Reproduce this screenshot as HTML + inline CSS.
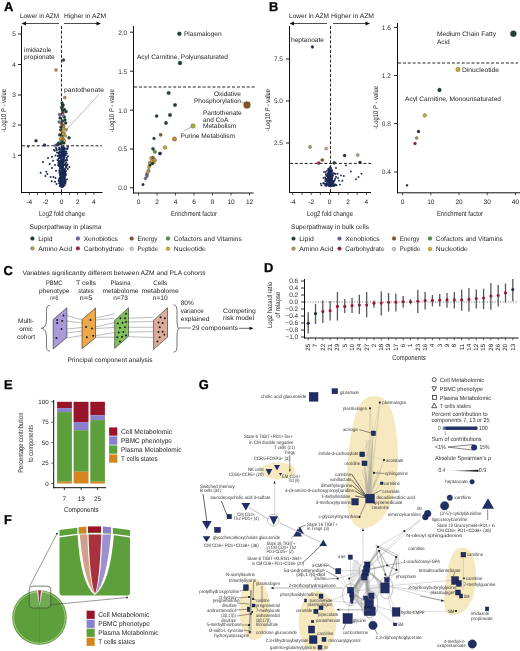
<!DOCTYPE html>
<html><head><meta charset="utf-8"><style>
html,body{margin:0;padding:0;background:#fff;width:520px;height:651px;overflow:hidden}
svg{display:block;font-family:"Liberation Sans", sans-serif;text-rendering:geometricPrecision;will-change:transform}
</style></head><body>
<svg width="520" height="651" viewBox="0 0 520 651">
<rect width="520" height="651" fill="#fff"/>
<text x="4" y="10.6" font-size="12.9" text-anchor="start" fill="#000" font-weight="bold" stroke="#000" stroke-width="0.3">A</text>
<text x="20" y="18.2" font-size="6.5" text-anchor="start" fill="#222" font-weight="normal" textLength="39" lengthAdjust="spacingAndGlyphs">Lower in AZM</text>
<text x="64" y="18.2" font-size="6.5" text-anchor="start" fill="#222" font-weight="normal" textLength="42" lengthAdjust="spacingAndGlyphs">Higher in AZM</text>
<line x1="24" y1="23.5" x2="59" y2="23.5" stroke="#222" stroke-width="0.8"/>
<path d="M21.5,23.5 L26,21.6 L26,25.4 Z" fill="#111"/>
<line x1="64" y1="23.5" x2="98" y2="23.5" stroke="#222" stroke-width="0.8"/>
<path d="M101,23.5 L96.5,21.6 L96.5,25.4 Z" fill="#111"/>
<line x1="21.5" y1="26" x2="21.5" y2="193" stroke="#111" stroke-width="1.0"/>
<line x1="21" y1="192.5" x2="102.5" y2="192.5" stroke="#111" stroke-width="1.0"/>
<text x="15.9" y="36.3" font-size="6.5" text-anchor="end" fill="#333" font-weight="normal">5</text>
<line x1="18" y1="34" x2="21.5" y2="34" stroke="#222" stroke-width="1.0"/>
<text x="15.9" y="66.8" font-size="6.5" text-anchor="end" fill="#333" font-weight="normal">4</text>
<line x1="18" y1="64.5" x2="21.5" y2="64.5" stroke="#222" stroke-width="1.0"/>
<text x="15.9" y="97.3" font-size="6.5" text-anchor="end" fill="#333" font-weight="normal">3</text>
<line x1="18" y1="95" x2="21.5" y2="95" stroke="#222" stroke-width="1.0"/>
<text x="15.9" y="127.3" font-size="6.5" text-anchor="end" fill="#333" font-weight="normal">2</text>
<line x1="18" y1="125" x2="21.5" y2="125" stroke="#222" stroke-width="1.0"/>
<text x="15.9" y="157.60000000000002" font-size="6.5" text-anchor="end" fill="#333" font-weight="normal">1</text>
<line x1="18" y1="155.3" x2="21.5" y2="155.3" stroke="#222" stroke-width="1.0"/>
<line x1="29.3" y1="192.5" x2="29.3" y2="195" stroke="#222" stroke-width="0.8"/>
<line x1="37.5" y1="192.5" x2="37.5" y2="195" stroke="#222" stroke-width="0.8"/>
<line x1="45.6" y1="192.5" x2="45.6" y2="195" stroke="#222" stroke-width="0.8"/>
<line x1="53.7" y1="192.5" x2="53.7" y2="195" stroke="#222" stroke-width="0.8"/>
<line x1="61.5" y1="192.5" x2="61.5" y2="195" stroke="#222" stroke-width="0.8"/>
<line x1="69.6" y1="192.5" x2="69.6" y2="195" stroke="#222" stroke-width="0.8"/>
<line x1="77.7" y1="192.5" x2="77.7" y2="195" stroke="#222" stroke-width="0.8"/>
<line x1="85.8" y1="192.5" x2="85.8" y2="195" stroke="#222" stroke-width="0.8"/>
<line x1="93.9" y1="192.5" x2="93.9" y2="195" stroke="#222" stroke-width="0.8"/>
<text x="29.3" y="204" font-size="6.5" text-anchor="middle" fill="#222" font-weight="normal">-4</text>
<text x="45.6" y="204" font-size="6.5" text-anchor="middle" fill="#222" font-weight="normal">-2</text>
<text x="61.5" y="204" font-size="6.5" text-anchor="middle" fill="#222" font-weight="normal">0</text>
<text x="77.7" y="204" font-size="6.5" text-anchor="middle" fill="#222" font-weight="normal">2</text>
<text x="93.9" y="204" font-size="6.5" text-anchor="middle" fill="#222" font-weight="normal">4</text>
<text x="62" y="215.8" font-size="7.2" text-anchor="middle" fill="#222" font-weight="normal" textLength="46" lengthAdjust="spacingAndGlyphs">Log2 fold change</text>
<text x="5.6" y="110.5" font-size="7.0" text-anchor="middle" fill="#222" font-weight="normal" transform="rotate(-90 5.6 110.5)" textLength="43" lengthAdjust="spacingAndGlyphs">-Log10 <tspan font-style="italic">P</tspan> - value</text>
<line x1="61.5" y1="26" x2="61.5" y2="192" stroke="#222" stroke-width="1.0" stroke-dasharray="3,1.8"/>
<line x1="22" y1="145.8" x2="102" y2="145.8" stroke="#222" stroke-width="1.0" stroke-dasharray="3,1.9"/>
<circle cx="60.0" cy="157.6" r="1.0" fill="#1c2a55"/>
<circle cx="61.8" cy="172.2" r="1.0" fill="#1c2a55"/>
<circle cx="62.6" cy="173.1" r="1.0" fill="#1c2a55"/>
<circle cx="62.4" cy="181.0" r="1.0" fill="#1c2a55"/>
<circle cx="63.1" cy="158.5" r="1.0" fill="#1c2a55"/>
<circle cx="69.4" cy="167.0" r="1.0" fill="#1c2a55"/>
<circle cx="60.0" cy="181.0" r="1.0" fill="#1c2a55"/>
<circle cx="62.9" cy="153.9" r="1.0" fill="#1c2a55"/>
<circle cx="63.9" cy="173.4" r="1.0" fill="#1c2a55"/>
<circle cx="60.7" cy="177.4" r="1.0" fill="#1c2a55"/>
<circle cx="65.2" cy="174.8" r="1.0" fill="#1c2a55"/>
<circle cx="63.6" cy="171.7" r="1.0" fill="#1c2a55"/>
<circle cx="67.1" cy="160.3" r="1.0" fill="#1c2a55"/>
<circle cx="63.1" cy="167.1" r="1.0" fill="#1c2a55"/>
<circle cx="64.4" cy="176.6" r="1.0" fill="#1c2a55"/>
<circle cx="60.7" cy="184.1" r="1.0" fill="#1c2a55"/>
<circle cx="63.1" cy="164.1" r="1.0" fill="#1c2a55"/>
<circle cx="60.8" cy="184.6" r="1.0" fill="#1c2a55"/>
<circle cx="63.0" cy="182.6" r="1.0" fill="#1c2a55"/>
<circle cx="63.1" cy="156.7" r="1.0" fill="#1c2a55"/>
<circle cx="60.4" cy="185.7" r="1.0" fill="#1c2a55"/>
<circle cx="63.6" cy="160.2" r="1.0" fill="#1c2a55"/>
<circle cx="60.8" cy="168.5" r="1.0" fill="#1c2a55"/>
<circle cx="63.5" cy="171.5" r="1.0" fill="#1c2a55"/>
<circle cx="64.8" cy="171.5" r="1.0" fill="#1c2a55"/>
<circle cx="61.0" cy="184.4" r="1.0" fill="#1c2a55"/>
<circle cx="64.7" cy="181.7" r="1.0" fill="#1c2a55"/>
<circle cx="62.1" cy="154.4" r="1.0" fill="#1c2a55"/>
<circle cx="65.7" cy="181.9" r="1.0" fill="#1c2a55"/>
<circle cx="61.3" cy="170.9" r="1.0" fill="#1c2a55"/>
<circle cx="63.1" cy="176.4" r="1.0" fill="#1c2a55"/>
<circle cx="66.0" cy="171.1" r="1.0" fill="#1c2a55"/>
<circle cx="66.7" cy="159.6" r="1.0" fill="#1c2a55"/>
<circle cx="63.4" cy="186.6" r="1.0" fill="#1c2a55"/>
<circle cx="63.2" cy="151.1" r="1.0" fill="#1c2a55"/>
<circle cx="59.7" cy="153.9" r="1.0" fill="#1c2a55"/>
<circle cx="62.9" cy="160.0" r="1.0" fill="#1c2a55"/>
<circle cx="56.5" cy="148.9" r="1.0" fill="#1c2a55"/>
<circle cx="65.3" cy="172.6" r="1.0" fill="#1c2a55"/>
<circle cx="63.4" cy="161.5" r="1.0" fill="#1c2a55"/>
<circle cx="64.1" cy="182.6" r="1.0" fill="#1c2a55"/>
<circle cx="62.1" cy="186.9" r="1.0" fill="#1c2a55"/>
<circle cx="65.2" cy="160.6" r="1.0" fill="#1c2a55"/>
<circle cx="64.1" cy="148.3" r="1.0" fill="#1c2a55"/>
<circle cx="59.3" cy="155.9" r="1.0" fill="#1c2a55"/>
<circle cx="64.3" cy="154.1" r="1.0" fill="#1c2a55"/>
<circle cx="64.0" cy="148.9" r="1.0" fill="#1c2a55"/>
<circle cx="61.4" cy="185.5" r="1.0" fill="#1c2a55"/>
<circle cx="61.1" cy="183.2" r="1.0" fill="#1c2a55"/>
<circle cx="63.9" cy="169.0" r="1.0" fill="#1c2a55"/>
<circle cx="60.3" cy="173.8" r="1.0" fill="#1c2a55"/>
<circle cx="60.9" cy="172.8" r="1.0" fill="#1c2a55"/>
<circle cx="60.7" cy="184.8" r="1.0" fill="#1c2a55"/>
<circle cx="62.2" cy="176.6" r="1.0" fill="#1c2a55"/>
<circle cx="60.1" cy="157.6" r="1.0" fill="#1c2a55"/>
<circle cx="67.8" cy="169.0" r="1.0" fill="#1c2a55"/>
<circle cx="64.4" cy="170.1" r="1.0" fill="#1c2a55"/>
<circle cx="62.4" cy="171.3" r="1.0" fill="#1c2a55"/>
<circle cx="59.2" cy="147.7" r="1.0" fill="#1c2a55"/>
<circle cx="59.6" cy="149.7" r="1.0" fill="#1c2a55"/>
<circle cx="59.5" cy="173.1" r="1.0" fill="#1c2a55"/>
<circle cx="63.0" cy="162.3" r="1.0" fill="#1c2a55"/>
<circle cx="62.3" cy="176.1" r="1.0" fill="#1c2a55"/>
<circle cx="61.7" cy="149.7" r="1.0" fill="#1c2a55"/>
<circle cx="63.7" cy="175.0" r="1.0" fill="#1c2a55"/>
<circle cx="61.9" cy="166.5" r="1.0" fill="#1c2a55"/>
<circle cx="61.5" cy="171.8" r="1.0" fill="#1c2a55"/>
<circle cx="64.4" cy="160.7" r="1.0" fill="#1c2a55"/>
<circle cx="60.7" cy="163.0" r="1.0" fill="#1c2a55"/>
<circle cx="61.2" cy="163.3" r="1.0" fill="#1c2a55"/>
<circle cx="64.5" cy="178.6" r="1.0" fill="#1c2a55"/>
<circle cx="62.7" cy="177.2" r="1.0" fill="#1c2a55"/>
<circle cx="63.0" cy="160.6" r="1.0" fill="#1c2a55"/>
<circle cx="66.8" cy="157.7" r="1.0" fill="#1c2a55"/>
<circle cx="58.6" cy="155.5" r="1.0" fill="#1c2a55"/>
<circle cx="64.0" cy="151.7" r="1.0" fill="#1c2a55"/>
<circle cx="60.0" cy="161.1" r="1.0" fill="#1c2a55"/>
<circle cx="65.9" cy="165.8" r="1.0" fill="#1c2a55"/>
<circle cx="63.0" cy="181.7" r="1.0" fill="#1c2a55"/>
<circle cx="63.8" cy="174.0" r="1.0" fill="#1c2a55"/>
<circle cx="61.2" cy="182.8" r="1.0" fill="#1c2a55"/>
<circle cx="62.9" cy="152.5" r="1.0" fill="#1c2a55"/>
<circle cx="63.7" cy="169.4" r="1.0" fill="#1c2a55"/>
<circle cx="65.0" cy="181.1" r="1.0" fill="#1c2a55"/>
<circle cx="61.5" cy="155.3" r="1.0" fill="#1c2a55"/>
<circle cx="65.7" cy="173.7" r="1.0" fill="#1c2a55"/>
<circle cx="61.8" cy="179.9" r="1.0" fill="#1c2a55"/>
<circle cx="63.4" cy="159.9" r="1.0" fill="#1c2a55"/>
<circle cx="62.1" cy="179.4" r="1.0" fill="#1c2a55"/>
<circle cx="64.3" cy="164.9" r="1.0" fill="#1c2a55"/>
<circle cx="58.1" cy="165.0" r="1.0" fill="#1c2a55"/>
<circle cx="65.5" cy="154.1" r="1.0" fill="#1c2a55"/>
<circle cx="68.0" cy="146.8" r="1.0" fill="#1c2a55"/>
<circle cx="61.3" cy="186.5" r="1.0" fill="#1c2a55"/>
<circle cx="67.1" cy="165.6" r="1.0" fill="#1c2a55"/>
<circle cx="60.5" cy="157.0" r="1.0" fill="#1c2a55"/>
<circle cx="63.6" cy="177.6" r="1.0" fill="#1c2a55"/>
<circle cx="59.7" cy="168.9" r="1.0" fill="#1c2a55"/>
<circle cx="61.4" cy="159.8" r="1.0" fill="#1c2a55"/>
<circle cx="64.0" cy="150.1" r="1.0" fill="#1c2a55"/>
<circle cx="61.5" cy="171.6" r="1.0" fill="#1c2a55"/>
<circle cx="67.4" cy="149.0" r="1.0" fill="#1c2a55"/>
<circle cx="61.1" cy="183.5" r="1.0" fill="#1c2a55"/>
<circle cx="59.0" cy="183.2" r="1.0" fill="#1c2a55"/>
<circle cx="62.1" cy="183.3" r="1.0" fill="#1c2a55"/>
<circle cx="62.2" cy="177.6" r="1.0" fill="#1c2a55"/>
<circle cx="61.1" cy="154.8" r="1.0" fill="#1c2a55"/>
<circle cx="65.2" cy="169.2" r="1.0" fill="#1c2a55"/>
<circle cx="65.2" cy="164.8" r="1.0" fill="#1c2a55"/>
<circle cx="61.1" cy="161.9" r="1.0" fill="#1c2a55"/>
<circle cx="64.1" cy="158.2" r="1.0" fill="#1c2a55"/>
<circle cx="60.8" cy="179.0" r="1.0" fill="#1c2a55"/>
<circle cx="63.2" cy="162.3" r="1.0" fill="#1c2a55"/>
<circle cx="64.2" cy="180.3" r="1.0" fill="#1c2a55"/>
<circle cx="63.8" cy="154.8" r="1.0" fill="#1c2a55"/>
<circle cx="58.7" cy="179.9" r="1.0" fill="#1c2a55"/>
<circle cx="64.6" cy="180.5" r="1.0" fill="#1c2a55"/>
<circle cx="62.4" cy="182.0" r="1.0" fill="#1c2a55"/>
<circle cx="62.0" cy="149.2" r="1.0" fill="#1c2a55"/>
<circle cx="63.9" cy="169.3" r="1.0" fill="#1c2a55"/>
<circle cx="58.5" cy="165.2" r="1.0" fill="#1c2a55"/>
<circle cx="63.2" cy="146.6" r="1.0" fill="#1c2a55"/>
<circle cx="63.3" cy="149.5" r="1.0" fill="#1c2a55"/>
<circle cx="63.3" cy="150.1" r="1.0" fill="#1c2a55"/>
<circle cx="62.7" cy="186.1" r="1.0" fill="#1c2a55"/>
<circle cx="61.6" cy="168.3" r="1.0" fill="#1c2a55"/>
<circle cx="61.4" cy="160.9" r="1.0" fill="#1c2a55"/>
<circle cx="63.9" cy="173.9" r="1.0" fill="#1c2a55"/>
<circle cx="61.5" cy="171.6" r="1.0" fill="#1c2a55"/>
<circle cx="63.5" cy="161.4" r="1.0" fill="#1c2a55"/>
<circle cx="58.3" cy="152.7" r="1.0" fill="#1c2a55"/>
<circle cx="61.1" cy="163.5" r="1.0" fill="#1c2a55"/>
<circle cx="63.5" cy="150.7" r="1.0" fill="#1c2a55"/>
<circle cx="64.0" cy="172.2" r="1.0" fill="#1c2a55"/>
<circle cx="60.1" cy="179.0" r="1.0" fill="#1c2a55"/>
<circle cx="64.7" cy="173.0" r="1.0" fill="#1c2a55"/>
<circle cx="60.5" cy="165.5" r="1.0" fill="#1c2a55"/>
<circle cx="63.8" cy="176.0" r="1.0" fill="#1c2a55"/>
<circle cx="61.4" cy="165.1" r="1.0" fill="#1c2a55"/>
<circle cx="59.7" cy="157.9" r="1.0" fill="#1c2a55"/>
<circle cx="62.0" cy="169.6" r="1.0" fill="#1c2a55"/>
<circle cx="61.5" cy="165.2" r="1.0" fill="#1c2a55"/>
<circle cx="66.1" cy="165.3" r="1.0" fill="#1c2a55"/>
<circle cx="58.6" cy="163.2" r="1.0" fill="#1c2a55"/>
<circle cx="62.6" cy="183.3" r="1.0" fill="#1c2a55"/>
<circle cx="60.7" cy="166.8" r="1.0" fill="#1c2a55"/>
<circle cx="63.8" cy="152.6" r="1.0" fill="#1c2a55"/>
<circle cx="60.2" cy="182.9" r="1.0" fill="#1c2a55"/>
<circle cx="60.9" cy="179.4" r="1.0" fill="#1c2a55"/>
<circle cx="59.4" cy="170.7" r="1.0" fill="#1c2a55"/>
<circle cx="62.1" cy="151.7" r="1.0" fill="#1c2a55"/>
<circle cx="62.2" cy="153.6" r="1.0" fill="#1c2a55"/>
<circle cx="63.0" cy="178.7" r="1.0" fill="#1c2a55"/>
<circle cx="62.6" cy="151.6" r="1.0" fill="#1c2a55"/>
<circle cx="62.4" cy="182.6" r="1.0" fill="#1c2a55"/>
<circle cx="62.6" cy="181.2" r="1.0" fill="#1c2a55"/>
<circle cx="64.6" cy="152.6" r="1.0" fill="#1c2a55"/>
<circle cx="60.3" cy="181.0" r="1.0" fill="#1c2a55"/>
<circle cx="60.0" cy="185.3" r="1.0" fill="#1c2a55"/>
<circle cx="59.8" cy="148.5" r="1.0" fill="#1c2a55"/>
<circle cx="59.6" cy="178.4" r="1.0" fill="#1c2a55"/>
<circle cx="62.0" cy="151.9" r="1.0" fill="#1c2a55"/>
<circle cx="62.9" cy="177.7" r="1.0" fill="#1c2a55"/>
<circle cx="62.0" cy="161.2" r="1.0" fill="#1c2a55"/>
<circle cx="63.0" cy="170.7" r="1.0" fill="#1c2a55"/>
<circle cx="60.6" cy="155.1" r="1.0" fill="#1c2a55"/>
<circle cx="59.2" cy="158.1" r="1.0" fill="#1c2a55"/>
<circle cx="59.8" cy="164.0" r="1.0" fill="#1c2a55"/>
<circle cx="60.6" cy="162.9" r="1.0" fill="#1c2a55"/>
<circle cx="63.6" cy="165.0" r="1.0" fill="#1c2a55"/>
<circle cx="54.8" cy="150.8" r="1.0" fill="#1c2a55"/>
<circle cx="62.3" cy="164.8" r="1.0" fill="#1c2a55"/>
<circle cx="63.7" cy="177.7" r="1.0" fill="#1c2a55"/>
<circle cx="64.6" cy="178.0" r="1.0" fill="#1c2a55"/>
<circle cx="60.2" cy="174.9" r="1.0" fill="#1c2a55"/>
<circle cx="62.1" cy="173.7" r="1.0" fill="#1c2a55"/>
<circle cx="62.7" cy="183.2" r="1.0" fill="#1c2a55"/>
<circle cx="62.9" cy="177.7" r="1.0" fill="#1c2a55"/>
<circle cx="60.7" cy="183.9" r="1.0" fill="#1c2a55"/>
<circle cx="62.1" cy="176.6" r="1.0" fill="#1c2a55"/>
<circle cx="62.1" cy="155.4" r="1.0" fill="#1c2a55"/>
<circle cx="63.6" cy="171.5" r="1.0" fill="#1c2a55"/>
<circle cx="62.7" cy="160.8" r="1.0" fill="#1c2a55"/>
<circle cx="64.5" cy="185.3" r="1.0" fill="#1c2a55"/>
<circle cx="61.6" cy="160.0" r="1.0" fill="#1c2a55"/>
<circle cx="60.7" cy="181.6" r="1.0" fill="#1c2a55"/>
<circle cx="62.1" cy="171.5" r="1.0" fill="#1c2a55"/>
<circle cx="64.3" cy="147.9" r="1.0" fill="#1c2a55"/>
<circle cx="61.3" cy="167.4" r="1.0" fill="#1c2a55"/>
<circle cx="63.3" cy="162.7" r="1.0" fill="#1c2a55"/>
<circle cx="62.5" cy="161.1" r="1.0" fill="#1c2a55"/>
<circle cx="61.5" cy="186.7" r="1.0" fill="#1c2a55"/>
<circle cx="60.3" cy="167.4" r="1.0" fill="#1c2a55"/>
<circle cx="61.2" cy="180.9" r="1.0" fill="#1c2a55"/>
<circle cx="60.5" cy="180.4" r="1.0" fill="#1c2a55"/>
<circle cx="61.6" cy="176.7" r="1.0" fill="#1c2a55"/>
<circle cx="60.2" cy="181.7" r="1.0" fill="#1c2a55"/>
<circle cx="63.7" cy="185.5" r="1.0" fill="#1c2a55"/>
<circle cx="62.5" cy="166.9" r="1.0" fill="#1c2a55"/>
<circle cx="63.6" cy="176.5" r="1.0" fill="#1c2a55"/>
<circle cx="65.8" cy="174.9" r="1.0" fill="#1c2a55"/>
<circle cx="61.0" cy="157.8" r="1.0" fill="#1c2a55"/>
<circle cx="62.2" cy="155.6" r="1.0" fill="#1c2a55"/>
<circle cx="63.5" cy="176.1" r="1.0" fill="#1c2a55"/>
<circle cx="63.3" cy="181.8" r="1.0" fill="#1c2a55"/>
<circle cx="61.6" cy="182.0" r="1.0" fill="#1c2a55"/>
<circle cx="58.9" cy="160.8" r="1.0" fill="#1c2a55"/>
<circle cx="64.4" cy="150.9" r="1.0" fill="#1c2a55"/>
<circle cx="63.5" cy="151.3" r="1.0" fill="#1c2a55"/>
<circle cx="60.6" cy="162.5" r="1.0" fill="#1c2a55"/>
<circle cx="62.2" cy="171.3" r="1.0" fill="#1c2a55"/>
<circle cx="62.1" cy="161.6" r="1.0" fill="#1c2a55"/>
<circle cx="60.8" cy="165.7" r="1.0" fill="#1c2a55"/>
<circle cx="62.4" cy="171.5" r="1.0" fill="#1c2a55"/>
<circle cx="60.9" cy="185.4" r="1.0" fill="#1c2a55"/>
<circle cx="64.5" cy="152.5" r="1.0" fill="#1c2a55"/>
<circle cx="61.7" cy="159.2" r="1.0" fill="#1c2a55"/>
<circle cx="61.6" cy="182.9" r="1.0" fill="#1c2a55"/>
<circle cx="65.3" cy="183.7" r="1.0" fill="#1c2a55"/>
<circle cx="65.4" cy="163.2" r="1.0" fill="#1c2a55"/>
<circle cx="62.4" cy="178.6" r="1.0" fill="#1c2a55"/>
<circle cx="60.7" cy="175.0" r="1.0" fill="#1c2a55"/>
<circle cx="62.8" cy="174.1" r="1.0" fill="#1c2a55"/>
<circle cx="61.0" cy="177.9" r="1.0" fill="#1c2a55"/>
<circle cx="61.5" cy="185.6" r="1.0" fill="#1c2a55"/>
<circle cx="59.3" cy="152.2" r="1.0" fill="#1c2a55"/>
<circle cx="60.3" cy="168.0" r="1.0" fill="#1c2a55"/>
<circle cx="64.7" cy="175.1" r="1.0" fill="#1c2a55"/>
<circle cx="63.5" cy="170.8" r="1.0" fill="#1c2a55"/>
<circle cx="64.8" cy="173.3" r="1.0" fill="#1c2a55"/>
<circle cx="65.2" cy="155.1" r="1.0" fill="#1c2a55"/>
<circle cx="59.8" cy="152.6" r="1.0" fill="#1c2a55"/>
<circle cx="63.1" cy="184.5" r="1.0" fill="#1c2a55"/>
<circle cx="63.5" cy="176.7" r="1.0" fill="#1c2a55"/>
<circle cx="59.6" cy="172.0" r="1.0" fill="#1c2a55"/>
<circle cx="61.2" cy="166.5" r="1.0" fill="#1c2a55"/>
<circle cx="62.7" cy="160.7" r="1.0" fill="#1c2a55"/>
<circle cx="62.9" cy="176.5" r="1.0" fill="#1c2a55"/>
<circle cx="59.5" cy="177.9" r="1.0" fill="#1c2a55"/>
<circle cx="61.3" cy="162.6" r="1.0" fill="#1c2a55"/>
<circle cx="58.6" cy="158.8" r="1.0" fill="#1c2a55"/>
<circle cx="66.2" cy="148.8" r="1.0" fill="#1c2a55"/>
<circle cx="62.4" cy="168.4" r="1.0" fill="#1c2a55"/>
<circle cx="66.3" cy="162.4" r="1.0" fill="#1c2a55"/>
<circle cx="59.9" cy="161.5" r="1.0" fill="#1c2a55"/>
<circle cx="63.5" cy="178.6" r="1.0" fill="#1c2a55"/>
<circle cx="63.0" cy="162.4" r="1.0" fill="#1c2a55"/>
<circle cx="61.3" cy="159.0" r="1.0" fill="#1c2a55"/>
<circle cx="65.9" cy="151.6" r="1.0" fill="#1c2a55"/>
<circle cx="64.3" cy="176.9" r="1.0" fill="#1c2a55"/>
<circle cx="63.3" cy="155.4" r="1.0" fill="#1c2a55"/>
<circle cx="64.0" cy="177.5" r="1.0" fill="#1c2a55"/>
<circle cx="62.3" cy="180.2" r="1.0" fill="#1c2a55"/>
<circle cx="58.7" cy="153.7" r="1.0" fill="#1c2a55"/>
<circle cx="63.3" cy="164.2" r="1.0" fill="#1c2a55"/>
<circle cx="64.6" cy="170.9" r="1.0" fill="#1c2a55"/>
<circle cx="62.3" cy="156.1" r="1.0" fill="#1c2a55"/>
<circle cx="67.3" cy="148.2" r="1.0" fill="#1c2a55"/>
<circle cx="65.5" cy="179.7" r="1.0" fill="#1c2a55"/>
<circle cx="58.8" cy="163.6" r="1.0" fill="#1c2a55"/>
<circle cx="59.8" cy="170.2" r="1.0" fill="#1c2a55"/>
<circle cx="61.3" cy="186.2" r="1.0" fill="#1c2a55"/>
<circle cx="61.2" cy="175.4" r="1.0" fill="#1c2a55"/>
<circle cx="66.3" cy="167.6" r="1.0" fill="#1c2a55"/>
<circle cx="62.3" cy="172.1" r="1.0" fill="#1c2a55"/>
<circle cx="62.2" cy="178.5" r="1.0" fill="#1c2a55"/>
<circle cx="60.0" cy="174.4" r="1.0" fill="#1c2a55"/>
<circle cx="62.4" cy="166.7" r="1.0" fill="#1c2a55"/>
<circle cx="61.6" cy="155.7" r="1.0" fill="#1c2a55"/>
<circle cx="62.2" cy="168.2" r="1.0" fill="#1c2a55"/>
<circle cx="60.0" cy="173.8" r="1.0" fill="#1c2a55"/>
<circle cx="62.9" cy="185.5" r="1.0" fill="#1c2a55"/>
<circle cx="64.1" cy="183.0" r="1.0" fill="#1c2a55"/>
<circle cx="64.9" cy="173.0" r="1.0" fill="#1c2a55"/>
<circle cx="61.0" cy="149.3" r="1.0" fill="#1c2a55"/>
<circle cx="63.9" cy="150.6" r="1.0" fill="#1c2a55"/>
<circle cx="63.9" cy="169.7" r="1.0" fill="#1c2a55"/>
<circle cx="61.7" cy="182.2" r="1.0" fill="#1c2a55"/>
<circle cx="64.7" cy="175.7" r="1.0" fill="#1c2a55"/>
<circle cx="65.2" cy="172.1" r="1.0" fill="#1c2a55"/>
<circle cx="61.8" cy="184.3" r="1.0" fill="#1c2a55"/>
<circle cx="58.5" cy="162.0" r="1.0" fill="#1c2a55"/>
<circle cx="65.3" cy="179.9" r="1.0" fill="#1c2a55"/>
<circle cx="60.5" cy="165.7" r="1.0" fill="#1c2a55"/>
<circle cx="61.5" cy="178.0" r="1.0" fill="#1c2a55"/>
<circle cx="62.4" cy="148.9" r="1.0" fill="#1c2a55"/>
<circle cx="62.8" cy="150.6" r="1.0" fill="#1c2a55"/>
<circle cx="63.5" cy="168.1" r="1.0" fill="#1c2a55"/>
<circle cx="60.4" cy="175.9" r="1.0" fill="#1c2a55"/>
<circle cx="61.8" cy="174.0" r="1.0" fill="#1c2a55"/>
<circle cx="58.3" cy="160.4" r="1.0" fill="#1c2a55"/>
<circle cx="63.1" cy="164.3" r="1.0" fill="#1c2a55"/>
<circle cx="65.7" cy="155.2" r="1.0" fill="#1c2a55"/>
<circle cx="60.1" cy="162.9" r="1.0" fill="#1c2a55"/>
<circle cx="59.2" cy="163.1" r="1.0" fill="#1c2a55"/>
<circle cx="61.7" cy="157.0" r="1.0" fill="#1c2a55"/>
<circle cx="63.6" cy="146.7" r="1.0" fill="#1c2a55"/>
<circle cx="66.8" cy="153.6" r="1.0" fill="#1c2a55"/>
<circle cx="62.8" cy="166.6" r="1.0" fill="#1c2a55"/>
<circle cx="64.0" cy="154.8" r="1.0" fill="#1c2a55"/>
<circle cx="62.6" cy="164.4" r="1.0" fill="#1c2a55"/>
<circle cx="62.9" cy="152.1" r="1.0" fill="#1c2a55"/>
<circle cx="61.4" cy="154.6" r="1.0" fill="#1c2a55"/>
<circle cx="62.4" cy="147.8" r="1.0" fill="#1c2a55"/>
<circle cx="59.4" cy="166.2" r="1.0" fill="#1c2a55"/>
<circle cx="64.7" cy="149.3" r="1.0" fill="#1c2a55"/>
<circle cx="61.9" cy="164.4" r="1.0" fill="#1c2a55"/>
<circle cx="62.5" cy="185.7" r="1.0" fill="#1c2a55"/>
<circle cx="64.7" cy="156.8" r="1.0" fill="#1c2a55"/>
<circle cx="64.0" cy="154.5" r="1.0" fill="#1c2a55"/>
<circle cx="61.7" cy="172.9" r="1.0" fill="#1c2a55"/>
<circle cx="63.5" cy="149.3" r="1.0" fill="#1c2a55"/>
<circle cx="61.8" cy="176.9" r="1.0" fill="#1c2a55"/>
<circle cx="66.1" cy="166.8" r="1.0" fill="#1c2a55"/>
<circle cx="61.9" cy="184.5" r="1.0" fill="#1c2a55"/>
<circle cx="64.1" cy="158.8" r="1.0" fill="#1c2a55"/>
<circle cx="61.3" cy="180.2" r="1.0" fill="#1c2a55"/>
<circle cx="60.5" cy="151.3" r="1.0" fill="#1c2a55"/>
<circle cx="64.7" cy="175.2" r="1.0" fill="#1c2a55"/>
<circle cx="61.5" cy="146.8" r="1.0" fill="#1c2a55"/>
<circle cx="63.8" cy="148.2" r="1.0" fill="#1c2a55"/>
<circle cx="63.2" cy="148.6" r="1.0" fill="#1c2a55"/>
<circle cx="58.9" cy="149.4" r="1.0" fill="#1c2a55"/>
<circle cx="57.7" cy="156.0" r="1.0" fill="#1c2a55"/>
<circle cx="59.8" cy="186.0" r="1.0" fill="#1c2a55"/>
<circle cx="62.7" cy="184.0" r="1.0" fill="#1c2a55"/>
<circle cx="63.5" cy="184.8" r="1.0" fill="#1c2a55"/>
<circle cx="62.7" cy="172.3" r="1.0" fill="#1c2a55"/>
<circle cx="63.3" cy="185.0" r="1.0" fill="#1c2a55"/>
<circle cx="63.0" cy="181.5" r="1.0" fill="#1c2a55"/>
<circle cx="60.4" cy="152.3" r="1.0" fill="#1c2a55"/>
<circle cx="63.4" cy="175.1" r="1.0" fill="#1c2a55"/>
<circle cx="63.4" cy="184.4" r="1.0" fill="#1c2a55"/>
<circle cx="64.9" cy="177.2" r="1.0" fill="#1c2a55"/>
<circle cx="58.8" cy="181.0" r="1.0" fill="#1c2a55"/>
<circle cx="60.6" cy="162.8" r="1.0" fill="#1c2a55"/>
<circle cx="62.8" cy="164.8" r="1.0" fill="#1c2a55"/>
<circle cx="66.0" cy="167.4" r="1.0" fill="#1c2a55"/>
<circle cx="64.2" cy="158.9" r="1.0" fill="#1c2a55"/>
<circle cx="65.0" cy="172.3" r="1.0" fill="#1c2a55"/>
<circle cx="60.7" cy="176.3" r="1.0" fill="#1c2a55"/>
<circle cx="64.3" cy="154.0" r="1.0" fill="#1c2a55"/>
<circle cx="64.3" cy="176.3" r="1.0" fill="#1c2a55"/>
<circle cx="62.6" cy="178.1" r="1.0" fill="#1c2a55"/>
<circle cx="63.4" cy="175.0" r="1.0" fill="#1c2a55"/>
<circle cx="63.0" cy="181.3" r="1.0" fill="#1c2a55"/>
<circle cx="65.1" cy="173.7" r="1.0" fill="#1c2a55"/>
<circle cx="59.2" cy="166.2" r="1.0" fill="#1c2a55"/>
<circle cx="62.2" cy="183.2" r="1.0" fill="#1c2a55"/>
<circle cx="60.2" cy="163.1" r="1.0" fill="#1c2a55"/>
<circle cx="56.7" cy="150.3" r="1.0" fill="#1c2a55"/>
<circle cx="66.4" cy="151.8" r="1.0" fill="#1c2a55"/>
<circle cx="62.9" cy="170.9" r="1.0" fill="#1c2a55"/>
<circle cx="62.8" cy="174.0" r="1.0" fill="#1c2a55"/>
<circle cx="63.7" cy="157.7" r="1.0" fill="#1c2a55"/>
<circle cx="62.6" cy="173.8" r="1.0" fill="#1c2a55"/>
<circle cx="63.7" cy="171.5" r="1.0" fill="#1c2a55"/>
<circle cx="62.4" cy="185.8" r="1.0" fill="#1c2a55"/>
<circle cx="59.8" cy="156.9" r="1.0" fill="#1c2a55"/>
<circle cx="61.6" cy="178.9" r="1.0" fill="#1c2a55"/>
<circle cx="52" cy="156.8" r="1.0" fill="#1c2a55"/>
<circle cx="55.5" cy="155.4" r="1.0" fill="#1c2a55"/>
<circle cx="53" cy="160.7" r="1.0" fill="#1c2a55"/>
<circle cx="49.7" cy="164" r="1.0" fill="#1c2a55"/>
<circle cx="57" cy="152.5" r="1.0" fill="#1c2a55"/>
<circle cx="40.6" cy="172.7" r="1.0" fill="#1c2a55"/>
<circle cx="46.3" cy="171.7" r="1.0" fill="#1c2a55"/>
<circle cx="45.4" cy="176" r="1.0" fill="#1c2a55"/>
<circle cx="47.3" cy="174" r="1.0" fill="#1c2a55"/>
<circle cx="50.7" cy="177" r="1.0" fill="#1c2a55"/>
<circle cx="51.6" cy="181.3" r="1.0" fill="#1c2a55"/>
<circle cx="55" cy="181.8" r="1.0" fill="#1c2a55"/>
<circle cx="56" cy="170.8" r="1.0" fill="#1c2a55"/>
<circle cx="55" cy="165" r="1.0" fill="#1c2a55"/>
<circle cx="55.5" cy="178" r="1.0" fill="#1c2a55"/>
<circle cx="53.5" cy="177" r="1.0" fill="#1c2a55"/>
<circle cx="68" cy="156.3" r="1.0" fill="#1c2a55"/>
<circle cx="67.5" cy="164.5" r="1.0" fill="#1c2a55"/>
<circle cx="67" cy="179.4" r="1.0" fill="#1c2a55"/>
<circle cx="54" cy="150" r="1.0" fill="#1c2a55"/>
<circle cx="56" cy="148" r="1.0" fill="#1c2a55"/>
<circle cx="52" cy="168" r="1.0" fill="#1c2a55"/>
<circle cx="57.5" cy="160" r="1.0" fill="#1c2a55"/>
<circle cx="48" cy="158" r="1.0" fill="#1c2a55"/>
<circle cx="43" cy="162" r="1.0" fill="#1c2a55"/>
<circle cx="56.5" cy="184" r="1.0" fill="#1c2a55"/>
<circle cx="64.8" cy="97.6" r="1.5" fill="#b89258" stroke="#2a2a2a" stroke-width="0.3"/>
<circle cx="63" cy="105" r="1.6" fill="#1e4136" stroke="#2a2a2a" stroke-width="0.3"/>
<circle cx="64.3" cy="109.4" r="1.5" fill="#1e4136" stroke="#2a2a2a" stroke-width="0.3"/>
<circle cx="66" cy="111.6" r="1.5" fill="#1e4136" stroke="#2a2a2a" stroke-width="0.3"/>
<circle cx="59.7" cy="114.5" r="1.5" fill="#6e64a8" stroke="#2a2a2a" stroke-width="0.3"/>
<circle cx="64.3" cy="117" r="1.5" fill="#1e4136" stroke="#2a2a2a" stroke-width="0.3"/>
<circle cx="59.4" cy="122" r="1.5" fill="#6e64a8" stroke="#2a2a2a" stroke-width="0.3"/>
<circle cx="65.6" cy="123" r="1.5" fill="#1e4136" stroke="#2a2a2a" stroke-width="0.3"/>
<circle cx="63" cy="125.5" r="1.5" fill="#8a5524" stroke="#2a2a2a" stroke-width="0.3"/>
<circle cx="61" cy="127" r="1.5" fill="#1e4136" stroke="#2a2a2a" stroke-width="0.3"/>
<circle cx="66" cy="129.7" r="1.5" fill="#b89258" stroke="#2a2a2a" stroke-width="0.3"/>
<circle cx="62" cy="131" r="1.5" fill="#cfae2e" stroke="#2a2a2a" stroke-width="0.3"/>
<circle cx="59.7" cy="134.8" r="1.5" fill="#1e4136" stroke="#2a2a2a" stroke-width="0.3"/>
<circle cx="64" cy="133" r="1.5" fill="#cfae2e" stroke="#2a2a2a" stroke-width="0.3"/>
<circle cx="69" cy="137.8" r="1.5" fill="#1e4136" stroke="#2a2a2a" stroke-width="0.3"/>
<circle cx="36" cy="140.7" r="1.5" fill="#1c2a55" stroke="#2a2a2a" stroke-width="0.3"/>
<circle cx="44.5" cy="145" r="1.5" fill="#1c2a55" stroke="#2a2a2a" stroke-width="0.3"/>
<circle cx="55.5" cy="145.4" r="1.4" fill="#6e64a8" stroke="#2a2a2a" stroke-width="0.3"/>
<circle cx="63" cy="139" r="1.5" fill="#b89258" stroke="#2a2a2a" stroke-width="0.3"/>
<circle cx="61" cy="141" r="1.4" fill="#4e9444" stroke="#2a2a2a" stroke-width="0.3"/>
<circle cx="64" cy="143" r="1.4" fill="#1e4136" stroke="#2a2a2a" stroke-width="0.3"/>
<circle cx="60" cy="144" r="1.3" fill="#1c2a55" stroke="#2a2a2a" stroke-width="0.3"/>
<circle cx="62" cy="136" r="1.5" fill="#1e4136" stroke="#2a2a2a" stroke-width="0.3"/>
<circle cx="65" cy="120" r="1.4" fill="#1e4136" stroke="#2a2a2a" stroke-width="0.3"/>
<circle cx="63" cy="113" r="1.4" fill="#8a5524" stroke="#2a2a2a" stroke-width="0.3"/>
<circle cx="60" cy="118" r="1.4" fill="#1e4136" stroke="#2a2a2a" stroke-width="0.3"/>
<circle cx="62" cy="103" r="1.4" fill="#1e4136" stroke="#2a2a2a" stroke-width="0.3"/>
<circle cx="61.5" cy="108" r="1.3" fill="#1e4136" stroke="#2a2a2a" stroke-width="0.3"/>
<circle cx="63.5" cy="128.5" r="1.4" fill="#cfae2e" stroke="#2a2a2a" stroke-width="0.3"/>
<circle cx="60.5" cy="130" r="1.3" fill="#1e4136" stroke="#2a2a2a" stroke-width="0.3"/>
<circle cx="65.5" cy="136" r="1.4" fill="#cfae2e" stroke="#2a2a2a" stroke-width="0.3"/>
<circle cx="62.5" cy="138.5" r="1.4" fill="#cfae2e" stroke="#2a2a2a" stroke-width="0.3"/>
<circle cx="62.5" cy="110.5" r="1.5" fill="#1e4136" stroke="#2a2a2a" stroke-width="0.3"/>
<circle cx="63.5" cy="116" r="1.3" fill="#6e64a8" stroke="#2a2a2a" stroke-width="0.3"/>
<circle cx="62.5" cy="121" r="1.5" fill="#1e4136" stroke="#2a2a2a" stroke-width="0.3"/>
<circle cx="61.8" cy="124" r="1.4" fill="#8a5524" stroke="#2a2a2a" stroke-width="0.3"/>
<circle cx="63.2" cy="134" r="1.5" fill="#cfae2e" stroke="#2a2a2a" stroke-width="0.3"/>
<circle cx="61.8" cy="137.5" r="1.5" fill="#b89258" stroke="#2a2a2a" stroke-width="0.3"/>
<circle cx="63" cy="142" r="1.5" fill="#1e4136" stroke="#2a2a2a" stroke-width="0.3"/>
<circle cx="61.5" cy="143.5" r="1.4" fill="#1e4136" stroke="#2a2a2a" stroke-width="0.3"/>
<circle cx="64.5" cy="140.5" r="1.4" fill="#cfae2e" stroke="#2a2a2a" stroke-width="0.3"/>
<circle cx="60.5" cy="139" r="1.4" fill="#cfae2e" stroke="#2a2a2a" stroke-width="0.3"/>
<circle cx="62.3" cy="106.5" r="1.6" fill="#1e4136" stroke="#2a2a2a" stroke-width="0.3"/>
<circle cx="63.8" cy="126.5" r="1.4" fill="#b89258" stroke="#2a2a2a" stroke-width="0.3"/>
<circle cx="58.5" cy="143" r="1.3" fill="#1e4136" stroke="#2a2a2a" stroke-width="0.3"/>
<circle cx="57.5" cy="144.5" r="1.3" fill="#1c2a55" stroke="#2a2a2a" stroke-width="0.3"/>
<path d="M26.8,145.8 L29.6,145.8 L28.2,148.2 Z" fill="#1c2a55"/>
<circle cx="56" cy="70" r="1.5" fill="#b89258" stroke="#2a2a2a" stroke-width="0.3"/>
<circle cx="63.5" cy="60" r="1.5" fill="#1e4136" stroke="#2a2a2a" stroke-width="0.3"/>
<text x="24" y="52.2" font-size="6.5" text-anchor="start" fill="#222" font-weight="normal">imidazole</text>
<text x="24" y="59.2" font-size="6.5" text-anchor="start" fill="#222" font-weight="normal">propionate</text>
<text x="64" y="92.3" font-size="6.5" text-anchor="start" fill="#222" font-weight="normal" textLength="40" lengthAdjust="spacingAndGlyphs">pantothenate</text>
<line x1="99" y1="94.5" x2="67" y2="129" stroke="#666" stroke-width="0.45"/>
<line x1="133.5" y1="26" x2="133.5" y2="193.5" stroke="#111" stroke-width="1.0"/>
<line x1="133" y1="193" x2="253.5" y2="193" stroke="#111" stroke-width="1.0"/>
<text x="127.2" y="34.5" font-size="6.5" text-anchor="end" fill="#333" font-weight="normal">2.0</text>
<line x1="130" y1="32.2" x2="133.5" y2="32.2" stroke="#222" stroke-width="1.0"/>
<text x="127.2" y="73.5" font-size="6.5" text-anchor="end" fill="#333" font-weight="normal">1.5</text>
<line x1="130" y1="71.2" x2="133.5" y2="71.2" stroke="#222" stroke-width="1.0"/>
<text x="127.2" y="112.5" font-size="6.5" text-anchor="end" fill="#333" font-weight="normal">1.0</text>
<line x1="130" y1="110.2" x2="133.5" y2="110.2" stroke="#222" stroke-width="1.0"/>
<text x="127.2" y="151.3" font-size="6.5" text-anchor="end" fill="#333" font-weight="normal">0.5</text>
<line x1="130" y1="149" x2="133.5" y2="149" stroke="#222" stroke-width="1.0"/>
<text x="127.2" y="190.10000000000002" font-size="6.5" text-anchor="end" fill="#333" font-weight="normal">0.0</text>
<line x1="130" y1="187.8" x2="133.5" y2="187.8" stroke="#222" stroke-width="1.0"/>
<line x1="138.5" y1="193" x2="138.5" y2="195.5" stroke="#222" stroke-width="0.8"/>
<text x="138.5" y="204" font-size="6.5" text-anchor="middle" fill="#222" font-weight="normal">0</text>
<line x1="157" y1="193" x2="157" y2="195.5" stroke="#222" stroke-width="0.8"/>
<text x="157" y="204" font-size="6.5" text-anchor="middle" fill="#222" font-weight="normal">2</text>
<line x1="175.5" y1="193" x2="175.5" y2="195.5" stroke="#222" stroke-width="0.8"/>
<text x="175.5" y="204" font-size="6.5" text-anchor="middle" fill="#222" font-weight="normal">4</text>
<line x1="194" y1="193" x2="194" y2="195.5" stroke="#222" stroke-width="0.8"/>
<text x="194" y="204" font-size="6.5" text-anchor="middle" fill="#222" font-weight="normal">6</text>
<line x1="212.5" y1="193" x2="212.5" y2="195.5" stroke="#222" stroke-width="0.8"/>
<text x="212.5" y="204" font-size="6.5" text-anchor="middle" fill="#222" font-weight="normal">8</text>
<line x1="231" y1="193" x2="231" y2="195.5" stroke="#222" stroke-width="0.8"/>
<text x="231" y="204" font-size="6.5" text-anchor="middle" fill="#222" font-weight="normal">10</text>
<line x1="249.5" y1="193" x2="249.5" y2="195.5" stroke="#222" stroke-width="0.8"/>
<text x="249.5" y="204" font-size="6.5" text-anchor="middle" fill="#222" font-weight="normal">12</text>
<text x="194" y="215.8" font-size="7.2" text-anchor="middle" fill="#222" font-weight="normal" textLength="46" lengthAdjust="spacingAndGlyphs">Enrichment factor</text>
<text x="114.1" y="110.7" font-size="7.0" text-anchor="middle" fill="#222" font-weight="normal" transform="rotate(-90 114.1 110.7)" textLength="43" lengthAdjust="spacingAndGlyphs">-Log10 <tspan font-style="italic">P</tspan> - value</text>
<line x1="134" y1="87" x2="255" y2="87" stroke="#222" stroke-width="1.0" stroke-dasharray="3,1.9"/>
<circle cx="179.4" cy="33.8" r="2.0" fill="#1e4136" stroke="#2a2a2a" stroke-width="0.3"/>
<circle cx="180" cy="63" r="2.0" fill="#1e4136" stroke="#2a2a2a" stroke-width="0.3"/>
<circle cx="247" cy="105" r="3.4" fill="#8a5524" stroke="#2a2a2a" stroke-width="0.3"/>
<circle cx="193" cy="126" r="2.3" fill="#a7ae3a" stroke="#2a2a2a" stroke-width="0.3"/>
<circle cx="174.5" cy="139" r="2.2" fill="#c98f2a" stroke="#2a2a2a" stroke-width="0.3"/>
<circle cx="168.6" cy="93" r="1.8" fill="#1e4136" stroke="#2a2a2a" stroke-width="0.3"/>
<circle cx="175" cy="105" r="1.8" fill="#1e4136" stroke="#2a2a2a" stroke-width="0.3"/>
<circle cx="156.6" cy="116" r="1.6" fill="#1e4136" stroke="#2a2a2a" stroke-width="0.3"/>
<circle cx="170" cy="115" r="1.8" fill="#1e4136" stroke="#2a2a2a" stroke-width="0.3"/>
<circle cx="166" cy="123" r="1.7" fill="#1e4136" stroke="#2a2a2a" stroke-width="0.3"/>
<circle cx="160.6" cy="134.8" r="1.6" fill="#8a5524" stroke="#2a2a2a" stroke-width="0.3"/>
<circle cx="154" cy="138.5" r="1.4" fill="#1e4136" stroke="#2a2a2a" stroke-width="0.3"/>
<circle cx="165" cy="147.5" r="1.9" fill="#cfae2e" stroke="#2a2a2a" stroke-width="0.3"/>
<circle cx="153" cy="148.8" r="1.6" fill="#1e4136" stroke="#2a2a2a" stroke-width="0.3"/>
<circle cx="154.8" cy="151.7" r="1.7" fill="#4e9444" stroke="#2a2a2a" stroke-width="0.3"/>
<circle cx="160" cy="153.5" r="1.7" fill="#1c2a55" stroke="#2a2a2a" stroke-width="0.3"/>
<circle cx="151.7" cy="161" r="1.7" fill="#cfae2e" stroke="#2a2a2a" stroke-width="0.3"/>
<circle cx="153.8" cy="162" r="1.8" fill="#cfae2e" stroke="#2a2a2a" stroke-width="0.3"/>
<circle cx="152.5" cy="163.5" r="1.5" fill="#1e4136" stroke="#2a2a2a" stroke-width="0.3"/>
<circle cx="149" cy="167" r="1.7" fill="#cfae2e" stroke="#2a2a2a" stroke-width="0.3"/>
<circle cx="148.6" cy="170.8" r="1.7" fill="#b89258" stroke="#2a2a2a" stroke-width="0.3"/>
<circle cx="147.5" cy="172.5" r="1.6" fill="#cfae2e" stroke="#2a2a2a" stroke-width="0.3"/>
<circle cx="146.8" cy="174.5" r="1.5" fill="#6e64a8" stroke="#2a2a2a" stroke-width="0.3"/>
<circle cx="145.5" cy="178.5" r="1.4" fill="#6e64a8" stroke="#2a2a2a" stroke-width="0.3"/>
<circle cx="143" cy="184.6" r="1.3" fill="#1c2a55" stroke="#2a2a2a" stroke-width="0.3"/>
<circle cx="150" cy="165" r="1.4" fill="#1e4136" stroke="#2a2a2a" stroke-width="0.3"/>
<circle cx="147" cy="176" r="1.5" fill="#7a6a9a" stroke="#2a2a2a" stroke-width="0.3"/>
<circle cx="151" cy="158" r="1.5" fill="#cfae2e" stroke="#2a2a2a" stroke-width="0.3"/>
<circle cx="155" cy="160" r="1.6" fill="#b89258" stroke="#2a2a2a" stroke-width="0.3"/>
<circle cx="153" cy="157.5" r="1.5" fill="#8a5524" stroke="#2a2a2a" stroke-width="0.3"/>
<circle cx="149.5" cy="163" r="1.4" fill="#b89258" stroke="#2a2a2a" stroke-width="0.3"/>
<text x="184" y="36.3" font-size="6.5" text-anchor="start" fill="#222" font-weight="normal">Plasmalogen</text>
<text x="137" y="58.6" font-size="6.5" text-anchor="start" fill="#222" font-weight="normal" textLength="91" lengthAdjust="spacingAndGlyphs">Acyl Carnitine, Polyunsaturated</text>
<text x="241" y="96.3" font-size="6.5" text-anchor="end" fill="#222" font-weight="normal">Oxidative</text>
<text x="241" y="102.6" font-size="6.5" text-anchor="end" fill="#222" font-weight="normal" textLength="47" lengthAdjust="spacingAndGlyphs">Phosphorylation</text>
<line x1="240.5" y1="101.5" x2="244.5" y2="103.5" stroke="#555" stroke-width="0.45"/>
<text x="203" y="115.3" font-size="6.5" text-anchor="start" fill="#222" font-weight="normal">Pantothenate</text>
<text x="203" y="121.6" font-size="6.5" text-anchor="start" fill="#222" font-weight="normal">and CoA</text>
<text x="203" y="127.9" font-size="6.5" text-anchor="start" fill="#222" font-weight="normal">Metabolism</text>
<line x1="183.5" y1="131.2" x2="191.2" y2="127" stroke="#555" stroke-width="0.45"/>
<text x="180.5" y="138.3" font-size="6.5" text-anchor="start" fill="#222" font-weight="normal" textLength="54.5" lengthAdjust="spacingAndGlyphs">Purine Metabolism</text>
<text x="29.5" y="229.1" font-size="6.7" text-anchor="start" fill="#222" font-weight="normal" textLength="72" lengthAdjust="spacingAndGlyphs">Superpathway in plasma</text>
<circle cx="32.4" cy="238.5" r="1.9" fill="#1e4136" stroke="#333" stroke-width="0.25"/>
<text x="38.199999999999996" y="240.8" font-size="6.7" text-anchor="start" fill="#222" font-weight="normal" textLength="14.4" lengthAdjust="spacingAndGlyphs">Lipid</text>
<circle cx="77.9" cy="238.5" r="1.9" fill="#6e64a8" stroke="#333" stroke-width="0.25"/>
<text x="83.7" y="240.8" font-size="6.7" text-anchor="start" fill="#222" font-weight="normal" textLength="34.2" lengthAdjust="spacingAndGlyphs">Xenobiotics</text>
<circle cx="131.7" cy="238.5" r="1.9" fill="#8a5524" stroke="#333" stroke-width="0.25"/>
<text x="137.5" y="240.8" font-size="6.7" text-anchor="start" fill="#222" font-weight="normal" textLength="20" lengthAdjust="spacingAndGlyphs">Energy</text>
<circle cx="168" cy="238.5" r="1.9" fill="#4e9444" stroke="#333" stroke-width="0.25"/>
<text x="173.8" y="240.8" font-size="6.7" text-anchor="start" fill="#222" font-weight="normal" textLength="68" lengthAdjust="spacingAndGlyphs">Cofactors and Vitamins</text>
<circle cx="32.4" cy="248.3" r="1.9" fill="#b89258" stroke="#333" stroke-width="0.25"/>
<text x="38.199999999999996" y="250.60000000000002" font-size="6.7" text-anchor="start" fill="#222" font-weight="normal" textLength="34" lengthAdjust="spacingAndGlyphs">Amino Acid</text>
<circle cx="77.9" cy="248.3" r="1.9" fill="#9b1e5b" stroke="#333" stroke-width="0.25"/>
<text x="83.7" y="250.60000000000002" font-size="6.7" text-anchor="start" fill="#222" font-weight="normal" textLength="40.2" lengthAdjust="spacingAndGlyphs">Carbohydrate</text>
<circle cx="131.7" cy="248.7" r="1.9" fill="#c8c8c8" stroke="#333" stroke-width="0.25"/>
<text x="137.5" y="251.0" font-size="6.7" text-anchor="start" fill="#222" font-weight="normal" textLength="20.5" lengthAdjust="spacingAndGlyphs">Peptide</text>
<circle cx="168" cy="248.7" r="1.9" fill="#cfae2e" stroke="#333" stroke-width="0.25"/>
<text x="173.8" y="251.0" font-size="6.7" text-anchor="start" fill="#222" font-weight="normal" textLength="32" lengthAdjust="spacingAndGlyphs">Nucleotide</text>
<text x="268.9" y="10.8" font-size="12.9" text-anchor="start" fill="#000" font-weight="bold" stroke="#000" stroke-width="0.3">B</text>
<text x="289" y="18.2" font-size="6.5" text-anchor="start" fill="#222" font-weight="normal" textLength="40" lengthAdjust="spacingAndGlyphs">Lower in AZM</text>
<text x="331" y="18.2" font-size="6.5" text-anchor="start" fill="#222" font-weight="normal" textLength="43" lengthAdjust="spacingAndGlyphs">Higher in AZM</text>
<line x1="292" y1="23.5" x2="327" y2="23.5" stroke="#222" stroke-width="0.8"/>
<path d="M289.5,23.5 L294,21.6 L294,25.4 Z" fill="#111"/>
<line x1="333" y1="23.5" x2="367" y2="23.5" stroke="#222" stroke-width="0.8"/>
<path d="M370,23.5 L365.5,21.6 L365.5,25.4 Z" fill="#111"/>
<line x1="289.5" y1="26" x2="289.5" y2="193" stroke="#111" stroke-width="1.0"/>
<line x1="289" y1="192.5" x2="371" y2="192.5" stroke="#111" stroke-width="1.0"/>
<text x="283" y="61.3" font-size="6.5" text-anchor="end" fill="#333" font-weight="normal">7.5</text>
<line x1="286" y1="59" x2="289.5" y2="59" stroke="#222" stroke-width="1.0"/>
<text x="283" y="103.3" font-size="6.5" text-anchor="end" fill="#333" font-weight="normal">5.0</text>
<line x1="286" y1="101" x2="289.5" y2="101" stroke="#222" stroke-width="1.0"/>
<text x="283" y="145.3" font-size="6.5" text-anchor="end" fill="#333" font-weight="normal">2.5</text>
<line x1="286" y1="143" x2="289.5" y2="143" stroke="#222" stroke-width="1.0"/>
<line x1="292.7" y1="192.5" x2="292.7" y2="195" stroke="#222" stroke-width="0.8"/>
<line x1="302" y1="192.5" x2="302" y2="195" stroke="#222" stroke-width="0.8"/>
<line x1="311.2" y1="192.5" x2="311.2" y2="195" stroke="#222" stroke-width="0.8"/>
<line x1="320.4" y1="192.5" x2="320.4" y2="195" stroke="#222" stroke-width="0.8"/>
<line x1="329.6" y1="192.5" x2="329.6" y2="195" stroke="#222" stroke-width="0.8"/>
<line x1="338.8" y1="192.5" x2="338.8" y2="195" stroke="#222" stroke-width="0.8"/>
<line x1="348" y1="192.5" x2="348" y2="195" stroke="#222" stroke-width="0.8"/>
<line x1="357.2" y1="192.5" x2="357.2" y2="195" stroke="#222" stroke-width="0.8"/>
<line x1="366.4" y1="192.5" x2="366.4" y2="195" stroke="#222" stroke-width="0.8"/>
<text x="292.7" y="204" font-size="6.5" text-anchor="middle" fill="#222" font-weight="normal">-4</text>
<text x="311.2" y="204" font-size="6.5" text-anchor="middle" fill="#222" font-weight="normal">-2</text>
<text x="329.6" y="204" font-size="6.5" text-anchor="middle" fill="#222" font-weight="normal">0</text>
<text x="348" y="204" font-size="6.5" text-anchor="middle" fill="#222" font-weight="normal">2</text>
<text x="366.4" y="204" font-size="6.5" text-anchor="middle" fill="#222" font-weight="normal">4</text>
<text x="330" y="215.8" font-size="7.2" text-anchor="middle" fill="#222" font-weight="normal" textLength="46" lengthAdjust="spacingAndGlyphs">Log2 fold change</text>
<text x="269.8" y="110" font-size="7.0" text-anchor="middle" fill="#222" font-weight="normal" transform="rotate(-90 269.8 110)" textLength="42" lengthAdjust="spacingAndGlyphs">-Log10 <tspan font-style="italic">P</tspan> - value</text>
<line x1="330.5" y1="26" x2="330.5" y2="192" stroke="#222" stroke-width="1.0" stroke-dasharray="3,1.8"/>
<line x1="290" y1="163.4" x2="371" y2="163.4" stroke="#222" stroke-width="1.0" stroke-dasharray="3,1.9"/>
<circle cx="330.7" cy="181.0" r="0.95" fill="#1c2a55"/>
<circle cx="327.5" cy="173.7" r="0.95" fill="#1c2a55"/>
<circle cx="333.5" cy="173.4" r="0.95" fill="#1c2a55"/>
<circle cx="331.8" cy="171.7" r="0.95" fill="#1c2a55"/>
<circle cx="331.2" cy="168.1" r="0.95" fill="#1c2a55"/>
<circle cx="329.7" cy="184.8" r="0.95" fill="#1c2a55"/>
<circle cx="328.6" cy="170.8" r="0.95" fill="#1c2a55"/>
<circle cx="330.4" cy="184.0" r="0.95" fill="#1c2a55"/>
<circle cx="327.5" cy="181.2" r="0.95" fill="#1c2a55"/>
<circle cx="326.9" cy="184.5" r="0.95" fill="#1c2a55"/>
<circle cx="328.0" cy="176.9" r="0.95" fill="#1c2a55"/>
<circle cx="328.7" cy="171.6" r="0.95" fill="#1c2a55"/>
<circle cx="326.5" cy="184.1" r="0.95" fill="#1c2a55"/>
<circle cx="327.8" cy="174.1" r="0.95" fill="#1c2a55"/>
<circle cx="326.4" cy="180.1" r="0.95" fill="#1c2a55"/>
<circle cx="330.7" cy="170.5" r="0.95" fill="#1c2a55"/>
<circle cx="329.1" cy="176.9" r="0.95" fill="#1c2a55"/>
<circle cx="330.1" cy="180.3" r="0.95" fill="#1c2a55"/>
<circle cx="327.0" cy="182.8" r="0.95" fill="#1c2a55"/>
<circle cx="331.6" cy="181.1" r="0.95" fill="#1c2a55"/>
<circle cx="325.8" cy="174.3" r="0.95" fill="#1c2a55"/>
<circle cx="336.1" cy="176.7" r="0.95" fill="#1c2a55"/>
<circle cx="331.4" cy="178.4" r="0.95" fill="#1c2a55"/>
<circle cx="330.7" cy="173.1" r="0.95" fill="#1c2a55"/>
<circle cx="329.3" cy="185.2" r="0.95" fill="#1c2a55"/>
<circle cx="325.3" cy="185.8" r="0.95" fill="#1c2a55"/>
<circle cx="332.6" cy="181.2" r="0.95" fill="#1c2a55"/>
<circle cx="328.8" cy="178.2" r="0.95" fill="#1c2a55"/>
<circle cx="334.7" cy="185.4" r="0.95" fill="#1c2a55"/>
<circle cx="326.8" cy="179.3" r="0.95" fill="#1c2a55"/>
<circle cx="323.3" cy="183.3" r="0.95" fill="#1c2a55"/>
<circle cx="334.4" cy="185.1" r="0.95" fill="#1c2a55"/>
<circle cx="331.3" cy="175.9" r="0.95" fill="#1c2a55"/>
<circle cx="329.5" cy="171.1" r="0.95" fill="#1c2a55"/>
<circle cx="329.2" cy="182.6" r="0.95" fill="#1c2a55"/>
<circle cx="332.7" cy="181.5" r="0.95" fill="#1c2a55"/>
<circle cx="330.0" cy="169.0" r="0.95" fill="#1c2a55"/>
<circle cx="328.1" cy="178.4" r="0.95" fill="#1c2a55"/>
<circle cx="329.8" cy="176.9" r="0.95" fill="#1c2a55"/>
<circle cx="326.3" cy="175.8" r="0.95" fill="#1c2a55"/>
<circle cx="329.4" cy="171.4" r="0.95" fill="#1c2a55"/>
<circle cx="331.9" cy="170.5" r="0.95" fill="#1c2a55"/>
<circle cx="330.3" cy="172.8" r="0.95" fill="#1c2a55"/>
<circle cx="326.4" cy="185.7" r="0.95" fill="#1c2a55"/>
<circle cx="331.6" cy="185.8" r="0.95" fill="#1c2a55"/>
<circle cx="328.6" cy="173.0" r="0.95" fill="#1c2a55"/>
<circle cx="327.3" cy="176.3" r="0.95" fill="#1c2a55"/>
<circle cx="330.7" cy="180.1" r="0.95" fill="#1c2a55"/>
<circle cx="331.1" cy="177.2" r="0.95" fill="#1c2a55"/>
<circle cx="328.5" cy="178.9" r="0.95" fill="#1c2a55"/>
<circle cx="330.7" cy="184.7" r="0.95" fill="#1c2a55"/>
<circle cx="328.3" cy="174.9" r="0.95" fill="#1c2a55"/>
<circle cx="331.2" cy="183.7" r="0.95" fill="#1c2a55"/>
<circle cx="330.1" cy="180.0" r="0.95" fill="#1c2a55"/>
<circle cx="330.4" cy="180.0" r="0.95" fill="#1c2a55"/>
<circle cx="330.6" cy="174.1" r="0.95" fill="#1c2a55"/>
<circle cx="323.7" cy="183.3" r="0.95" fill="#1c2a55"/>
<circle cx="331.4" cy="183.5" r="0.95" fill="#1c2a55"/>
<circle cx="331.4" cy="185.8" r="0.95" fill="#1c2a55"/>
<circle cx="330.2" cy="167.4" r="0.95" fill="#1c2a55"/>
<circle cx="329.6" cy="178.4" r="0.95" fill="#1c2a55"/>
<circle cx="330.6" cy="180.2" r="0.95" fill="#1c2a55"/>
<circle cx="329.4" cy="171.1" r="0.95" fill="#1c2a55"/>
<circle cx="331.6" cy="183.7" r="0.95" fill="#1c2a55"/>
<circle cx="330.0" cy="178.2" r="0.95" fill="#1c2a55"/>
<circle cx="330.7" cy="178.4" r="0.95" fill="#1c2a55"/>
<circle cx="327.7" cy="181.4" r="0.95" fill="#1c2a55"/>
<circle cx="325.4" cy="183.7" r="0.95" fill="#1c2a55"/>
<circle cx="332.4" cy="175.0" r="0.95" fill="#1c2a55"/>
<circle cx="332.9" cy="183.5" r="0.95" fill="#1c2a55"/>
<circle cx="331.4" cy="179.6" r="0.95" fill="#1c2a55"/>
<circle cx="327.5" cy="175.7" r="0.95" fill="#1c2a55"/>
<circle cx="333.0" cy="173.2" r="0.95" fill="#1c2a55"/>
<circle cx="330.4" cy="184.8" r="0.95" fill="#1c2a55"/>
<circle cx="326.6" cy="184.9" r="0.95" fill="#1c2a55"/>
<circle cx="330.7" cy="185.2" r="0.95" fill="#1c2a55"/>
<circle cx="328.1" cy="183.8" r="0.95" fill="#1c2a55"/>
<circle cx="328.6" cy="179.8" r="0.95" fill="#1c2a55"/>
<circle cx="331.3" cy="173.3" r="0.95" fill="#1c2a55"/>
<circle cx="333.2" cy="185.9" r="0.95" fill="#1c2a55"/>
<circle cx="328.2" cy="180.2" r="0.95" fill="#1c2a55"/>
<circle cx="331.2" cy="178.8" r="0.95" fill="#1c2a55"/>
<circle cx="324.4" cy="183.7" r="0.95" fill="#1c2a55"/>
<circle cx="331.5" cy="172.9" r="0.95" fill="#1c2a55"/>
<circle cx="327.7" cy="176.4" r="0.95" fill="#1c2a55"/>
<circle cx="329.7" cy="184.3" r="0.95" fill="#1c2a55"/>
<circle cx="332.9" cy="184.0" r="0.95" fill="#1c2a55"/>
<circle cx="329.0" cy="168.5" r="0.95" fill="#1c2a55"/>
<circle cx="327.4" cy="180.6" r="0.95" fill="#1c2a55"/>
<circle cx="329.2" cy="175.7" r="0.95" fill="#1c2a55"/>
<circle cx="330.9" cy="182.5" r="0.95" fill="#1c2a55"/>
<circle cx="329.4" cy="181.9" r="0.95" fill="#1c2a55"/>
<circle cx="325.1" cy="177.4" r="0.95" fill="#1c2a55"/>
<circle cx="329.5" cy="185.5" r="0.95" fill="#1c2a55"/>
<circle cx="331.8" cy="181.6" r="0.95" fill="#1c2a55"/>
<circle cx="334.5" cy="173.5" r="0.95" fill="#1c2a55"/>
<circle cx="331.0" cy="177.6" r="0.95" fill="#1c2a55"/>
<circle cx="328.3" cy="175.5" r="0.95" fill="#1c2a55"/>
<circle cx="331.9" cy="185.4" r="0.95" fill="#1c2a55"/>
<circle cx="329.3" cy="177.8" r="0.95" fill="#1c2a55"/>
<circle cx="331.2" cy="175.7" r="0.95" fill="#1c2a55"/>
<circle cx="331.3" cy="185.8" r="0.95" fill="#1c2a55"/>
<circle cx="330.2" cy="170.6" r="0.95" fill="#1c2a55"/>
<circle cx="331.3" cy="170.6" r="0.95" fill="#1c2a55"/>
<circle cx="329.8" cy="179.9" r="0.95" fill="#1c2a55"/>
<circle cx="325.6" cy="181.4" r="0.95" fill="#1c2a55"/>
<circle cx="331.9" cy="183.9" r="0.95" fill="#1c2a55"/>
<circle cx="330.1" cy="185.6" r="0.95" fill="#1c2a55"/>
<circle cx="329.8" cy="170.2" r="0.95" fill="#1c2a55"/>
<circle cx="332.5" cy="175.4" r="0.95" fill="#1c2a55"/>
<circle cx="331.6" cy="180.2" r="0.95" fill="#1c2a55"/>
<circle cx="330.5" cy="185.5" r="0.95" fill="#1c2a55"/>
<circle cx="331.1" cy="172.6" r="0.95" fill="#1c2a55"/>
<circle cx="329.2" cy="185.9" r="0.95" fill="#1c2a55"/>
<circle cx="329.2" cy="182.0" r="0.95" fill="#1c2a55"/>
<circle cx="329.2" cy="169.6" r="0.95" fill="#1c2a55"/>
<circle cx="330.7" cy="183.1" r="0.95" fill="#1c2a55"/>
<circle cx="331.3" cy="183.9" r="0.95" fill="#1c2a55"/>
<circle cx="335.6" cy="184.5" r="0.95" fill="#1c2a55"/>
<circle cx="331.8" cy="180.0" r="0.95" fill="#1c2a55"/>
<circle cx="331.8" cy="177.6" r="0.95" fill="#1c2a55"/>
<circle cx="331.4" cy="185.9" r="0.95" fill="#1c2a55"/>
<circle cx="330.9" cy="175.7" r="0.95" fill="#1c2a55"/>
<circle cx="330.8" cy="172.1" r="0.95" fill="#1c2a55"/>
<circle cx="330.8" cy="177.1" r="0.95" fill="#1c2a55"/>
<circle cx="329.6" cy="173.8" r="0.95" fill="#1c2a55"/>
<circle cx="336.5" cy="185.3" r="0.95" fill="#1c2a55"/>
<circle cx="329.9" cy="175.0" r="0.95" fill="#1c2a55"/>
<circle cx="332.5" cy="177.1" r="0.95" fill="#1c2a55"/>
<circle cx="329.2" cy="182.4" r="0.95" fill="#1c2a55"/>
<circle cx="332.1" cy="176.3" r="0.95" fill="#1c2a55"/>
<circle cx="330.3" cy="183.0" r="0.95" fill="#1c2a55"/>
<circle cx="327.6" cy="183.4" r="0.95" fill="#1c2a55"/>
<circle cx="328.9" cy="180.1" r="0.95" fill="#1c2a55"/>
<circle cx="325.7" cy="178.6" r="0.95" fill="#1c2a55"/>
<circle cx="329.1" cy="174.0" r="0.95" fill="#1c2a55"/>
<circle cx="334.1" cy="180.9" r="0.95" fill="#1c2a55"/>
<circle cx="328.3" cy="173.5" r="0.95" fill="#1c2a55"/>
<circle cx="330.8" cy="185.6" r="0.95" fill="#1c2a55"/>
<circle cx="328.9" cy="175.4" r="0.95" fill="#1c2a55"/>
<circle cx="335.6" cy="174.0" r="0.95" fill="#1c2a55"/>
<circle cx="332.1" cy="178.0" r="0.95" fill="#1c2a55"/>
<circle cx="330.3" cy="184.5" r="0.95" fill="#1c2a55"/>
<circle cx="330.3" cy="184.5" r="0.95" fill="#1c2a55"/>
<circle cx="333.5" cy="183.6" r="0.95" fill="#1c2a55"/>
<circle cx="329.8" cy="179.9" r="0.95" fill="#1c2a55"/>
<circle cx="332.4" cy="183.2" r="0.95" fill="#1c2a55"/>
<circle cx="331.6" cy="178.6" r="0.95" fill="#1c2a55"/>
<circle cx="328.5" cy="172.6" r="0.95" fill="#1c2a55"/>
<circle cx="328.8" cy="179.6" r="0.95" fill="#1c2a55"/>
<circle cx="329.1" cy="177.4" r="0.95" fill="#1c2a55"/>
<circle cx="332.0" cy="181.0" r="0.95" fill="#1c2a55"/>
<circle cx="334.3" cy="185.8" r="0.95" fill="#1c2a55"/>
<circle cx="328.2" cy="184.1" r="0.95" fill="#1c2a55"/>
<circle cx="331.8" cy="175.8" r="0.95" fill="#1c2a55"/>
<circle cx="329.8" cy="172.0" r="0.95" fill="#1c2a55"/>
<circle cx="329.8" cy="179.5" r="0.95" fill="#1c2a55"/>
<circle cx="327.9" cy="181.6" r="0.95" fill="#1c2a55"/>
<circle cx="332.4" cy="175.7" r="0.95" fill="#1c2a55"/>
<circle cx="329.5" cy="179.2" r="0.95" fill="#1c2a55"/>
<circle cx="334.8" cy="180.0" r="0.95" fill="#1c2a55"/>
<circle cx="325.2" cy="179.9" r="0.95" fill="#1c2a55"/>
<circle cx="329.4" cy="178.6" r="0.95" fill="#1c2a55"/>
<circle cx="329.4" cy="178.3" r="0.95" fill="#1c2a55"/>
<circle cx="330.1" cy="184.2" r="0.95" fill="#1c2a55"/>
<circle cx="329.2" cy="184.3" r="0.95" fill="#1c2a55"/>
<circle cx="332.2" cy="177.6" r="0.95" fill="#1c2a55"/>
<circle cx="329.8" cy="174.3" r="0.95" fill="#1c2a55"/>
<circle cx="331.8" cy="180.2" r="0.95" fill="#1c2a55"/>
<circle cx="328.4" cy="184.5" r="0.95" fill="#1c2a55"/>
<circle cx="328.7" cy="182.5" r="0.95" fill="#1c2a55"/>
<circle cx="331.5" cy="179.6" r="0.95" fill="#1c2a55"/>
<circle cx="327.7" cy="177.9" r="0.95" fill="#1c2a55"/>
<circle cx="332.4" cy="184.5" r="0.95" fill="#1c2a55"/>
<circle cx="331.0" cy="180.8" r="0.95" fill="#1c2a55"/>
<circle cx="331.3" cy="177.4" r="0.95" fill="#1c2a55"/>
<circle cx="330.6" cy="181.2" r="0.95" fill="#1c2a55"/>
<circle cx="330.7" cy="176.5" r="0.95" fill="#1c2a55"/>
<circle cx="332.7" cy="175.7" r="0.95" fill="#1c2a55"/>
<circle cx="330.5" cy="185.1" r="0.95" fill="#1c2a55"/>
<circle cx="329.7" cy="180.0" r="0.95" fill="#1c2a55"/>
<circle cx="325.7" cy="184.1" r="0.95" fill="#1c2a55"/>
<circle cx="326.7" cy="185.0" r="0.95" fill="#1c2a55"/>
<circle cx="331.1" cy="171.9" r="0.95" fill="#1c2a55"/>
<circle cx="328.1" cy="184.6" r="0.95" fill="#1c2a55"/>
<circle cx="331.8" cy="184.7" r="0.95" fill="#1c2a55"/>
<circle cx="331.5" cy="175.8" r="0.95" fill="#1c2a55"/>
<circle cx="334.0" cy="181.0" r="0.95" fill="#1c2a55"/>
<circle cx="331.8" cy="170.8" r="0.95" fill="#1c2a55"/>
<circle cx="330.3" cy="166.9" r="0.95" fill="#1c2a55"/>
<circle cx="330.8" cy="184.0" r="0.95" fill="#1c2a55"/>
<circle cx="331.7" cy="177.7" r="0.95" fill="#1c2a55"/>
<circle cx="327.0" cy="179.7" r="0.95" fill="#1c2a55"/>
<circle cx="331.3" cy="181.8" r="0.95" fill="#1c2a55"/>
<circle cx="335.3" cy="178.5" r="0.95" fill="#1c2a55"/>
<circle cx="333.7" cy="182.2" r="0.95" fill="#1c2a55"/>
<circle cx="327.0" cy="170.7" r="0.95" fill="#1c2a55"/>
<circle cx="331.4" cy="185.9" r="0.95" fill="#1c2a55"/>
<circle cx="332.2" cy="170.1" r="0.95" fill="#1c2a55"/>
<circle cx="330.2" cy="178.3" r="0.95" fill="#1c2a55"/>
<circle cx="331.0" cy="184.8" r="0.95" fill="#1c2a55"/>
<circle cx="328.2" cy="178.2" r="0.95" fill="#1c2a55"/>
<circle cx="331.2" cy="180.7" r="0.95" fill="#1c2a55"/>
<circle cx="329.0" cy="177.7" r="0.95" fill="#1c2a55"/>
<circle cx="329.7" cy="170.9" r="0.95" fill="#1c2a55"/>
<circle cx="329.6" cy="185.3" r="0.95" fill="#1c2a55"/>
<circle cx="329.1" cy="179.9" r="0.95" fill="#1c2a55"/>
<circle cx="329.6" cy="174.7" r="0.95" fill="#1c2a55"/>
<circle cx="331.8" cy="179.0" r="0.95" fill="#1c2a55"/>
<circle cx="327.8" cy="175.8" r="0.95" fill="#1c2a55"/>
<circle cx="328.5" cy="185.8" r="0.95" fill="#1c2a55"/>
<circle cx="327.8" cy="174.0" r="0.95" fill="#1c2a55"/>
<circle cx="331.0" cy="176.0" r="0.95" fill="#1c2a55"/>
<circle cx="329.3" cy="180.0" r="0.95" fill="#1c2a55"/>
<circle cx="327.6" cy="181.3" r="0.95" fill="#1c2a55"/>
<circle cx="333.1" cy="185.0" r="0.95" fill="#1c2a55"/>
<circle cx="329.9" cy="184.3" r="0.95" fill="#1c2a55"/>
<circle cx="328.7" cy="169.9" r="0.95" fill="#1c2a55"/>
<circle cx="329.4" cy="178.4" r="0.95" fill="#1c2a55"/>
<circle cx="331.4" cy="184.5" r="0.95" fill="#1c2a55"/>
<circle cx="332.2" cy="174.3" r="0.95" fill="#1c2a55"/>
<circle cx="325.7" cy="171.9" r="0.95" fill="#1c2a55"/>
<circle cx="328.7" cy="185.0" r="0.95" fill="#1c2a55"/>
<circle cx="330.9" cy="173.6" r="0.95" fill="#1c2a55"/>
<circle cx="328.2" cy="168.9" r="0.95" fill="#1c2a55"/>
<circle cx="330.0" cy="184.3" r="0.95" fill="#1c2a55"/>
<circle cx="332.2" cy="184.0" r="0.95" fill="#1c2a55"/>
<circle cx="330.8" cy="177.7" r="0.95" fill="#1c2a55"/>
<circle cx="330.0" cy="173.4" r="0.95" fill="#1c2a55"/>
<circle cx="331.8" cy="182.3" r="0.95" fill="#1c2a55"/>
<circle cx="337.7" cy="173.8" r="0.95" fill="#1c2a55"/>
<circle cx="340.8" cy="175.4" r="0.95" fill="#1c2a55"/>
<circle cx="343.8" cy="176" r="0.95" fill="#1c2a55"/>
<circle cx="350.8" cy="171.5" r="0.95" fill="#1c2a55"/>
<circle cx="346" cy="165.4" r="0.95" fill="#1c2a55"/>
<circle cx="339" cy="180.8" r="0.95" fill="#1c2a55"/>
<circle cx="342.3" cy="180.8" r="0.95" fill="#1c2a55"/>
<circle cx="356" cy="179.2" r="0.95" fill="#1c2a55"/>
<circle cx="358.5" cy="177" r="0.95" fill="#1c2a55"/>
<circle cx="361.5" cy="173.8" r="0.95" fill="#1c2a55"/>
<circle cx="340" cy="184.6" r="0.95" fill="#1c2a55"/>
<circle cx="320.8" cy="183.8" r="0.95" fill="#1c2a55"/>
<circle cx="321.5" cy="185.4" r="0.95" fill="#1c2a55"/>
<circle cx="336" cy="168" r="0.95" fill="#1c2a55"/>
<circle cx="338" cy="178" r="0.95" fill="#1c2a55"/>
<circle cx="335" cy="185" r="0.95" fill="#1c2a55"/>
<circle cx="324" cy="172" r="0.95" fill="#1c2a55"/>
<circle cx="323.5" cy="178" r="0.95" fill="#1c2a55"/>
<circle cx="312.4" cy="47" r="1.4" fill="#1c2a55" stroke="#2a2a2a" stroke-width="0.3"/>
<circle cx="310" cy="146.9" r="1.6" fill="#b89258" stroke="#2a2a2a" stroke-width="0.3"/>
<circle cx="326.2" cy="148.5" r="1.6" fill="#c8b07a" stroke="#2a2a2a" stroke-width="0.3"/>
<circle cx="322.3" cy="160" r="1.6" fill="#8a5524" stroke="#2a2a2a" stroke-width="0.3"/>
<circle cx="318.8" cy="163" r="1.6" fill="#9b1e5b" stroke="#2a2a2a" stroke-width="0.3"/>
<circle cx="344.6" cy="155.4" r="1.5" fill="#1c2a55" stroke="#2a2a2a" stroke-width="0.3"/>
<circle cx="357.7" cy="155" r="1.6" fill="#b0aa70" stroke="#2a2a2a" stroke-width="0.3"/>
<circle cx="360" cy="162.3" r="1.4" fill="#1c2a55" stroke="#2a2a2a" stroke-width="0.3"/>
<circle cx="334.2" cy="162.8" r="1.6" fill="#1e4136" stroke="#2a2a2a" stroke-width="0.3"/>
<text x="291" y="42.2" font-size="6.5" text-anchor="start" fill="#222" font-weight="normal" textLength="33" lengthAdjust="spacingAndGlyphs">heptanoate</text>
<line x1="397.5" y1="23" x2="397.5" y2="193.3" stroke="#111" stroke-width="1.0"/>
<line x1="397" y1="192.8" x2="520" y2="192.8" stroke="#111" stroke-width="1.0"/>
<text x="390.9" y="29.7" font-size="6.5" text-anchor="end" fill="#333" font-weight="normal">1.6</text>
<line x1="394.2" y1="27.4" x2="397.5" y2="27.4" stroke="#222" stroke-width="1.0"/>
<text x="390.9" y="77.8" font-size="6.5" text-anchor="end" fill="#333" font-weight="normal">1.2</text>
<line x1="394.2" y1="75.5" x2="397.5" y2="75.5" stroke="#222" stroke-width="1.0"/>
<text x="390.9" y="125.89999999999999" font-size="6.5" text-anchor="end" fill="#333" font-weight="normal">0.8</text>
<line x1="394.2" y1="123.6" x2="397.5" y2="123.6" stroke="#222" stroke-width="1.0"/>
<text x="390.9" y="174.3" font-size="6.5" text-anchor="end" fill="#333" font-weight="normal">0.4</text>
<line x1="394.2" y1="172" x2="397.5" y2="172" stroke="#222" stroke-width="1.0"/>
<line x1="402.6" y1="192.8" x2="402.6" y2="195.3" stroke="#222" stroke-width="0.8"/>
<text x="402.6" y="204" font-size="6.5" text-anchor="middle" fill="#222" font-weight="normal">0</text>
<line x1="430.8" y1="192.8" x2="430.8" y2="195.3" stroke="#222" stroke-width="0.8"/>
<text x="430.8" y="204" font-size="6.5" text-anchor="middle" fill="#222" font-weight="normal">10</text>
<line x1="459" y1="192.8" x2="459" y2="195.3" stroke="#222" stroke-width="0.8"/>
<text x="459" y="204" font-size="6.5" text-anchor="middle" fill="#222" font-weight="normal">20</text>
<line x1="487.2" y1="192.8" x2="487.2" y2="195.3" stroke="#222" stroke-width="0.8"/>
<text x="487.2" y="204" font-size="6.5" text-anchor="middle" fill="#222" font-weight="normal">30</text>
<line x1="515.4" y1="192.8" x2="515.4" y2="195.3" stroke="#222" stroke-width="0.8"/>
<text x="515.4" y="204" font-size="6.5" text-anchor="middle" fill="#222" font-weight="normal">40</text>
<text x="460" y="215.8" font-size="7.2" text-anchor="middle" fill="#222" font-weight="normal" textLength="46" lengthAdjust="spacingAndGlyphs">Enrichment factor</text>
<text x="377.5" y="107.5" font-size="7.0" text-anchor="middle" fill="#222" font-weight="normal" transform="rotate(-90 377.5 107.5)" textLength="43" lengthAdjust="spacingAndGlyphs">-Log10 <tspan font-style="italic">P</tspan> - value</text>
<line x1="398" y1="63" x2="518" y2="63" stroke="#222" stroke-width="1.0" stroke-dasharray="3,1.9"/>
<circle cx="513.4" cy="33.7" r="3.0" fill="#1e4136" stroke="#2a2a2a" stroke-width="0.3"/>
<circle cx="458" cy="69.5" r="2.2" fill="#cfae2e" stroke="#2a2a2a" stroke-width="0.3"/>
<circle cx="439.5" cy="90" r="1.9" fill="#1e4136" stroke="#2a2a2a" stroke-width="0.3"/>
<circle cx="424.8" cy="115.4" r="1.8" fill="#cfae2e" stroke="#2a2a2a" stroke-width="0.3"/>
<circle cx="418.5" cy="131.5" r="1.5" fill="#1c2a55" stroke="#2a2a2a" stroke-width="0.3"/>
<circle cx="416.7" cy="138" r="1.5" fill="#b89258" stroke="#2a2a2a" stroke-width="0.3"/>
<circle cx="415" cy="143.5" r="1.5" fill="#9b1e5b" stroke="#2a2a2a" stroke-width="0.3"/>
<circle cx="407" cy="185.3" r="1.1" fill="#1c2a55" stroke="#2a2a2a" stroke-width="0.3"/>
<text x="437" y="35.8" font-size="6.5" text-anchor="start" fill="#222" font-weight="normal" textLength="59" lengthAdjust="spacingAndGlyphs">Medium Chain Fatty</text>
<text x="437" y="43.8" font-size="6.5" text-anchor="start" fill="#222" font-weight="normal">Acid</text>
<text x="462" y="72.2" font-size="6.5" text-anchor="start" fill="#222" font-weight="normal" textLength="37" lengthAdjust="spacingAndGlyphs">Dinucleotide</text>
<text x="405" y="100.5" font-size="6.5" text-anchor="start" fill="#222" font-weight="normal" textLength="96" lengthAdjust="spacingAndGlyphs">Acyl Carnitine, Monounsaturated</text>
<text x="291" y="229.3" font-size="6.7" text-anchor="start" fill="#222" font-weight="normal" textLength="78" lengthAdjust="spacingAndGlyphs">Superpathway in bulk cells</text>
<circle cx="293.5" cy="238.6" r="1.9" fill="#1e4136" stroke="#333" stroke-width="0.25"/>
<text x="299.3" y="240.9" font-size="6.7" text-anchor="start" fill="#222" font-weight="normal" textLength="14.4" lengthAdjust="spacingAndGlyphs">Lipid</text>
<circle cx="339.5" cy="238.6" r="1.9" fill="#6e64a8" stroke="#333" stroke-width="0.25"/>
<text x="345.3" y="240.9" font-size="6.7" text-anchor="start" fill="#222" font-weight="normal" textLength="34.4" lengthAdjust="spacingAndGlyphs">Xenobiotics</text>
<circle cx="394" cy="238.5" r="1.9" fill="#8a5524" stroke="#333" stroke-width="0.25"/>
<text x="399.8" y="240.8" font-size="6.7" text-anchor="start" fill="#222" font-weight="normal" textLength="19.6" lengthAdjust="spacingAndGlyphs">Energy</text>
<circle cx="430" cy="238.5" r="1.9" fill="#4e9444" stroke="#333" stroke-width="0.25"/>
<text x="435.8" y="240.8" font-size="6.7" text-anchor="start" fill="#222" font-weight="normal" textLength="67" lengthAdjust="spacingAndGlyphs">Cofactors and Vitamins</text>
<circle cx="293.5" cy="248.6" r="1.9" fill="#b89258" stroke="#333" stroke-width="0.25"/>
<text x="299.3" y="250.9" font-size="6.7" text-anchor="start" fill="#222" font-weight="normal" textLength="34" lengthAdjust="spacingAndGlyphs">Amino Acid</text>
<circle cx="339.5" cy="248.6" r="1.9" fill="#9b1e5b" stroke="#333" stroke-width="0.25"/>
<text x="345.3" y="250.9" font-size="6.7" text-anchor="start" fill="#222" font-weight="normal" textLength="39.2" lengthAdjust="spacingAndGlyphs">Carbohydrate</text>
<circle cx="394" cy="249" r="1.9" fill="#c8c8c8" stroke="#333" stroke-width="0.25"/>
<text x="399.8" y="251.3" font-size="6.7" text-anchor="start" fill="#222" font-weight="normal" textLength="20.5" lengthAdjust="spacingAndGlyphs">Peptide</text>
<circle cx="430" cy="249" r="1.9" fill="#cfae2e" stroke="#333" stroke-width="0.25"/>
<text x="435.8" y="251.3" font-size="6.7" text-anchor="start" fill="#222" font-weight="normal" textLength="32" lengthAdjust="spacingAndGlyphs">Nucleotide</text>
<text x="3.6" y="274.5" font-size="12.9" text-anchor="start" fill="#000" font-weight="bold" stroke="#000" stroke-width="0.3">C</text>
<text x="22.5" y="275" font-size="6.4" text-anchor="start" fill="#222" font-weight="normal" textLength="183" lengthAdjust="spacingAndGlyphs">Variables significantly different between AZM and PLA cohorts</text>
<text x="54.2" y="284.8" font-size="6.5" text-anchor="middle" fill="#222" font-weight="normal" textLength="16.5" lengthAdjust="spacingAndGlyphs">PBMC</text>
<text x="54.2" y="292.5" font-size="6.5" text-anchor="middle" fill="#222" font-weight="normal" textLength="30.5" lengthAdjust="spacingAndGlyphs">phenotype</text>
<text x="54.2" y="300.2" font-size="6.5" text-anchor="middle" fill="#222" font-weight="normal" textLength="8" lengthAdjust="spacingAndGlyphs">n=6</text>
<text x="86" y="284.8" font-size="6.5" text-anchor="middle" fill="#222" font-weight="normal" textLength="20" lengthAdjust="spacingAndGlyphs">T cells</text>
<text x="86" y="292.5" font-size="6.5" text-anchor="middle" fill="#222" font-weight="normal" textLength="15.5" lengthAdjust="spacingAndGlyphs">states</text>
<text x="86" y="300.2" font-size="6.5" text-anchor="middle" fill="#222" font-weight="normal" textLength="13" lengthAdjust="spacingAndGlyphs">n=5</text>
<text x="120.5" y="284.8" font-size="6.5" text-anchor="middle" fill="#222" font-weight="normal" textLength="20" lengthAdjust="spacingAndGlyphs">Plasma</text>
<text x="120.5" y="292.5" font-size="6.5" text-anchor="middle" fill="#222" font-weight="normal" textLength="36" lengthAdjust="spacingAndGlyphs">metabolome</text>
<text x="120.5" y="300.2" font-size="6.5" text-anchor="middle" fill="#222" font-weight="normal" textLength="14.6" lengthAdjust="spacingAndGlyphs">n=73</text>
<text x="160.2" y="284.8" font-size="6.5" text-anchor="middle" fill="#222" font-weight="normal" textLength="14" lengthAdjust="spacingAndGlyphs">Cells</text>
<text x="160.2" y="292.5" font-size="6.5" text-anchor="middle" fill="#222" font-weight="normal" textLength="36.9" lengthAdjust="spacingAndGlyphs">metabolome</text>
<text x="160.2" y="300.2" font-size="6.5" text-anchor="middle" fill="#222" font-weight="normal" textLength="15" lengthAdjust="spacingAndGlyphs">n=10</text>
<text x="26" y="323.3" font-size="6.5" text-anchor="middle" fill="#222" font-weight="normal">Multi-</text>
<text x="26" y="331.3" font-size="6.5" text-anchor="middle" fill="#222" font-weight="normal">omic</text>
<text x="26" y="339.3" font-size="6.5" text-anchor="middle" fill="#222" font-weight="normal">cohort</text>
<path d="M50,305.4 C46,305.4 46.5,309 46.5,316 C46.5,324 46,327.5 41.3,328.3 C46,329 46.5,333 46.5,341 C46.5,348 46,351 50,351" fill="none" stroke="#333" stroke-width="0.7"/>
<path d="M173.5,305 C177.5,305 177,309 177,317 C177,325 177.5,328 179,328.5 C177.5,329 177,332 177,340 C177,348 177.5,352 173.5,352" fill="none" stroke="#333" stroke-width="0.7"/>
<line x1="66.9" y1="315.5" x2="82" y2="320" stroke="#666" stroke-width="0.45"/>
<line x1="66.9" y1="321" x2="82" y2="323" stroke="#666" stroke-width="0.45"/>
<line x1="66.9" y1="329" x2="82" y2="327.5" stroke="#666" stroke-width="0.45"/>
<line x1="66.9" y1="333" x2="82" y2="331" stroke="#666" stroke-width="0.45"/>
<line x1="66.9" y1="338" x2="82" y2="335.5" stroke="#666" stroke-width="0.45"/>
<line x1="95.5" y1="320" x2="114.7" y2="318.2" stroke="#666" stroke-width="0.45"/>
<line x1="95.5" y1="327" x2="114.7" y2="322.5" stroke="#666" stroke-width="0.45"/>
<line x1="95.5" y1="328.5" x2="114.7" y2="327.5" stroke="#666" stroke-width="0.45"/>
<line x1="95.5" y1="335.7" x2="114.7" y2="332.5" stroke="#666" stroke-width="0.45"/>
<line x1="95.5" y1="337.3" x2="114.7" y2="337.2" stroke="#666" stroke-width="0.45"/>
<line x1="95.5" y1="318" x2="114.7" y2="313.8" stroke="#666" stroke-width="0.45"/>
<line x1="128.5" y1="318.2" x2="153.6" y2="317.3" stroke="#666" stroke-width="0.45"/>
<line x1="128.5" y1="322" x2="153.6" y2="321.5" stroke="#666" stroke-width="0.45"/>
<line x1="128.5" y1="327.3" x2="153.6" y2="327.2" stroke="#666" stroke-width="0.45"/>
<line x1="128.5" y1="332" x2="153.6" y2="331.7" stroke="#666" stroke-width="0.45"/>
<line x1="128.5" y1="336.7" x2="153.6" y2="337.5" stroke="#666" stroke-width="0.45"/>
<path d="M53.2,319.5 L66.9,307.8 L66.9,337.4 L53.2,349.1 Z" fill="#a99bd8" stroke="#2a2a2a" stroke-width="0.6"/>
<circle cx="57.2" cy="320" r="0.95" fill="#111"/>
<circle cx="63.5" cy="315.5" r="0.95" fill="#111"/>
<circle cx="62.2" cy="321" r="0.95" fill="#111"/>
<circle cx="57.2" cy="323" r="0.95" fill="#111"/>
<circle cx="61.5" cy="329" r="0.95" fill="#111"/>
<circle cx="56.4" cy="338" r="0.95" fill="#111"/>
<path d="M82,319.5 L95.5,308 L95.5,337.7 L82,348.7 Z" fill="#eba94c" stroke="#2a2a2a" stroke-width="0.6"/>
<circle cx="90.5" cy="320" r="0.95" fill="#111"/>
<circle cx="86" cy="327" r="0.95" fill="#111"/>
<circle cx="92" cy="328.5" r="0.95" fill="#111"/>
<circle cx="86.8" cy="337.3" r="0.95" fill="#111"/>
<circle cx="93.2" cy="335.7" r="0.95" fill="#111"/>
<path d="M114.7,320.4 L128.5,307.8 L128.5,336.3 L114.7,348.4 Z" fill="#80c15c" stroke="#2a2a2a" stroke-width="0.6"/>
<circle cx="120.4" cy="318.2" r="0.95" fill="#111"/>
<circle cx="126" cy="313.8" r="0.95" fill="#111"/>
<circle cx="125" cy="318.2" r="0.95" fill="#111"/>
<circle cx="117.8" cy="323.4" r="0.95" fill="#111"/>
<circle cx="122.5" cy="322.8" r="0.95" fill="#111"/>
<circle cx="126" cy="322" r="0.95" fill="#111"/>
<circle cx="119.9" cy="327.7" r="0.95" fill="#111"/>
<circle cx="125" cy="327.3" r="0.95" fill="#111"/>
<circle cx="118.7" cy="332.5" r="0.95" fill="#111"/>
<circle cx="123.4" cy="332" r="0.95" fill="#111"/>
<circle cx="126" cy="335.5" r="0.95" fill="#111"/>
<circle cx="117.3" cy="337.2" r="0.95" fill="#111"/>
<circle cx="122" cy="336.7" r="0.95" fill="#111"/>
<circle cx="119.9" cy="341.5" r="0.95" fill="#111"/>
<path d="M153.6,320.4 L167.5,307.8 L167.5,337.2 L153.6,349.3 Z" fill="#dcab9a" stroke="#2a2a2a" stroke-width="0.6"/>
<circle cx="160.6" cy="317.3" r="0.95" fill="#111"/>
<circle cx="164.9" cy="318.2" r="0.95" fill="#111"/>
<circle cx="158.5" cy="322.5" r="0.95" fill="#111"/>
<circle cx="162.6" cy="323" r="0.95" fill="#111"/>
<circle cx="159.7" cy="327.2" r="0.95" fill="#111"/>
<circle cx="158.5" cy="332" r="0.95" fill="#111"/>
<circle cx="162.6" cy="331.7" r="0.95" fill="#111"/>
<circle cx="164.4" cy="334.6" r="0.95" fill="#111"/>
<circle cx="159.7" cy="337.2" r="0.95" fill="#111"/>
<circle cx="157.4" cy="341.5" r="0.95" fill="#111"/>
<text x="180.7" y="305.2" font-size="6.5" text-anchor="start" fill="#222" font-weight="normal">80%</text>
<text x="180.7" y="312.6" font-size="6.5" text-anchor="start" fill="#222" font-weight="normal" textLength="23" lengthAdjust="spacingAndGlyphs">variance</text>
<text x="180.7" y="321.2" font-size="6.5" text-anchor="start" fill="#222" font-weight="normal" textLength="28.8" lengthAdjust="spacingAndGlyphs">explained</text>
<line x1="179" y1="328" x2="191" y2="328" stroke="#222" stroke-width="0.6"/>
<text x="192" y="330" font-size="6.5" text-anchor="start" fill="#222" font-weight="normal" textLength="46" lengthAdjust="spacingAndGlyphs">29 components</text>
<line x1="239" y1="328.3" x2="250" y2="328.3" stroke="#222" stroke-width="0.7"/>
<path d="M253.5,328.3 L249.5,326.7 L249.5,329.9 Z" fill="#111"/>
<text x="223" y="312.6" font-size="6.5" text-anchor="start" fill="#222" font-weight="normal" textLength="32.7" lengthAdjust="spacingAndGlyphs">Competing</text>
<text x="223" y="319.8" font-size="6.5" text-anchor="start" fill="#222" font-weight="normal" textLength="31" lengthAdjust="spacingAndGlyphs">risk model</text>
<text x="110" y="362.3" font-size="6.5" text-anchor="middle" fill="#222" font-weight="normal" textLength="85" lengthAdjust="spacingAndGlyphs">Principal component analysis</text>
<text x="263.9" y="271.7" font-size="12.9" text-anchor="start" fill="#000" font-weight="bold" stroke="#000" stroke-width="0.3">D</text>
<line x1="304.5" y1="279" x2="304.5" y2="338.5" stroke="#111" stroke-width="1.0"/>
<line x1="304" y1="338" x2="518.5" y2="338" stroke="#111" stroke-width="1.0"/>
<line x1="301" y1="281.0" x2="304.5" y2="281.0" stroke="#222" stroke-width="0.9"/>
<text x="298.2" y="283.2" font-size="6.5" text-anchor="end" fill="#333" font-weight="normal">0.6</text>
<line x1="301" y1="288.0" x2="304.5" y2="288.0" stroke="#222" stroke-width="0.9"/>
<text x="298.2" y="290.2" font-size="6.5" text-anchor="end" fill="#333" font-weight="normal">0.4</text>
<line x1="301" y1="295.0" x2="304.5" y2="295.0" stroke="#222" stroke-width="0.9"/>
<text x="298.2" y="297.2" font-size="6.5" text-anchor="end" fill="#333" font-weight="normal">0.2</text>
<line x1="301" y1="302.0" x2="304.5" y2="302.0" stroke="#222" stroke-width="0.9"/>
<text x="298.2" y="304.2" font-size="6.5" text-anchor="end" fill="#333" font-weight="normal">0.0</text>
<line x1="301" y1="309.0" x2="304.5" y2="309.0" stroke="#222" stroke-width="0.9"/>
<text x="298.2" y="311.2" font-size="6.5" text-anchor="end" fill="#333" font-weight="normal">−0.2</text>
<line x1="301" y1="316.0" x2="304.5" y2="316.0" stroke="#222" stroke-width="0.9"/>
<text x="298.2" y="318.2" font-size="6.5" text-anchor="end" fill="#333" font-weight="normal">−0.4</text>
<line x1="301" y1="323.0" x2="304.5" y2="323.0" stroke="#222" stroke-width="0.9"/>
<text x="298.2" y="325.2" font-size="6.5" text-anchor="end" fill="#333" font-weight="normal">−0.6</text>
<line x1="301" y1="330.0" x2="304.5" y2="330.0" stroke="#222" stroke-width="0.9"/>
<text x="298.2" y="332.2" font-size="6.5" text-anchor="end" fill="#333" font-weight="normal">−0.8</text>
<line x1="301" y1="337.0" x2="304.5" y2="337.0" stroke="#222" stroke-width="0.9"/>
<text x="298.2" y="339.2" font-size="6.5" text-anchor="end" fill="#333" font-weight="normal">−1.0</text>
<text x="272.3" y="305" font-size="6.8" text-anchor="middle" fill="#222" font-weight="normal" transform="rotate(-90 272.3 305)" textLength="46" lengthAdjust="spacingAndGlyphs">Log2 hazard ratio</text>
<text x="280" y="304.8" font-size="6.8" text-anchor="middle" fill="#222" font-weight="normal" transform="rotate(-90 280 304.8)" textLength="26" lengthAdjust="spacingAndGlyphs">of relapse</text>
<line x1="305" y1="302.0" x2="518" y2="302.0" stroke="#333" stroke-width="0.7" stroke-dasharray="1,1.6"/>
<line x1="308.2" y1="312.3" x2="308.2" y2="333.6" stroke="#575757" stroke-width="1.3"/>
<circle cx="308.2" cy="323.2" r="1.55" fill="#1c2a55"/>
<line x1="308.2" y1="338" x2="308.2" y2="340.3" stroke="#222" stroke-width="0.7"/>
<text x="310.1" y="343.8" font-size="6.2" text-anchor="end" fill="#222" font-weight="normal" transform="rotate(-90 310.1 343.8)">25</text>
<line x1="315.51" y1="303.8" x2="315.51" y2="324" stroke="#575757" stroke-width="1.3"/>
<circle cx="315.51" cy="313.6" r="1.55" fill="#1c2a55"/>
<line x1="315.51" y1="338" x2="315.51" y2="340.3" stroke="#222" stroke-width="0.7"/>
<text x="317.41" y="343.8" font-size="6.2" text-anchor="end" fill="#222" font-weight="normal" transform="rotate(-90 317.41 343.8)">7</text>
<line x1="322.81" y1="300.6" x2="322.81" y2="323" stroke="#575757" stroke-width="1.3"/>
<circle cx="322.81" cy="311.6" r="1.55" fill="#961a34"/>
<line x1="322.81" y1="338" x2="322.81" y2="340.3" stroke="#222" stroke-width="0.7"/>
<text x="324.71" y="343.8" font-size="6.2" text-anchor="end" fill="#222" font-weight="normal" transform="rotate(-90 324.71 343.8)">22</text>
<line x1="330.12" y1="301" x2="330.12" y2="320.6" stroke="#575757" stroke-width="1.3"/>
<circle cx="330.12" cy="310.8" r="1.55" fill="#961a34"/>
<line x1="330.12" y1="338" x2="330.12" y2="340.3" stroke="#222" stroke-width="0.7"/>
<text x="332.02" y="343.8" font-size="6.2" text-anchor="end" fill="#222" font-weight="normal" transform="rotate(-90 332.02 343.8)">21</text>
<line x1="337.43" y1="292" x2="337.43" y2="320.6" stroke="#575757" stroke-width="1.3"/>
<circle cx="337.43" cy="306.4" r="1.55" fill="#961a34"/>
<line x1="337.43" y1="338" x2="337.43" y2="340.3" stroke="#222" stroke-width="0.7"/>
<text x="339.33" y="343.8" font-size="6.2" text-anchor="end" fill="#222" font-weight="normal" transform="rotate(-90 339.33 343.8)">29</text>
<line x1="344.74" y1="299" x2="344.74" y2="313" stroke="#575757" stroke-width="1.3"/>
<circle cx="344.74" cy="306.4" r="1.55" fill="#961a34"/>
<line x1="344.74" y1="338" x2="344.74" y2="340.3" stroke="#222" stroke-width="0.7"/>
<text x="346.64" y="343.8" font-size="6.2" text-anchor="end" fill="#222" font-weight="normal" transform="rotate(-90 346.64 343.8)">5</text>
<line x1="352.04" y1="298" x2="352.04" y2="313" stroke="#575757" stroke-width="1.3"/>
<circle cx="352.04" cy="305.6" r="1.55" fill="#961a34"/>
<line x1="352.04" y1="338" x2="352.04" y2="340.3" stroke="#222" stroke-width="0.7"/>
<text x="353.94" y="343.8" font-size="6.2" text-anchor="end" fill="#222" font-weight="normal" transform="rotate(-90 353.94 343.8)">10</text>
<line x1="359.35" y1="294.7" x2="359.35" y2="314" stroke="#575757" stroke-width="1.3"/>
<circle cx="359.35" cy="305" r="1.55" fill="#961a34"/>
<line x1="359.35" y1="338" x2="359.35" y2="340.3" stroke="#222" stroke-width="0.7"/>
<text x="361.25" y="343.8" font-size="6.2" text-anchor="end" fill="#222" font-weight="normal" transform="rotate(-90 361.25 343.8)">24</text>
<line x1="366.66" y1="292" x2="366.66" y2="317.3" stroke="#575757" stroke-width="1.3"/>
<circle cx="366.66" cy="305" r="1.55" fill="#961a34"/>
<line x1="366.66" y1="338" x2="366.66" y2="340.3" stroke="#222" stroke-width="0.7"/>
<text x="368.56" y="343.8" font-size="6.2" text-anchor="end" fill="#222" font-weight="normal" transform="rotate(-90 368.56 343.8)">27</text>
<line x1="373.96" y1="300.5" x2="373.96" y2="307.7" stroke="#575757" stroke-width="1.3"/>
<circle cx="373.96" cy="303.2" r="1.55" fill="#961a34"/>
<line x1="373.96" y1="338" x2="373.96" y2="340.3" stroke="#222" stroke-width="0.7"/>
<text x="375.86" y="343.8" font-size="6.2" text-anchor="end" fill="#222" font-weight="normal" transform="rotate(-90 375.86 343.8)">2</text>
<line x1="381.27" y1="291.3" x2="381.27" y2="315.5" stroke="#575757" stroke-width="1.3"/>
<circle cx="381.27" cy="303" r="1.55" fill="#961a34"/>
<line x1="381.27" y1="338" x2="381.27" y2="340.3" stroke="#222" stroke-width="0.7"/>
<text x="383.17" y="343.8" font-size="6.2" text-anchor="end" fill="#222" font-weight="normal" transform="rotate(-90 383.17 343.8)">18</text>
<line x1="388.58" y1="293" x2="388.58" y2="311.6" stroke="#575757" stroke-width="1.3"/>
<circle cx="388.58" cy="302.3" r="1.55" fill="#961a34"/>
<line x1="388.58" y1="338" x2="388.58" y2="340.3" stroke="#222" stroke-width="0.7"/>
<text x="390.48" y="343.8" font-size="6.2" text-anchor="end" fill="#222" font-weight="normal" transform="rotate(-90 390.48 343.8)">19</text>
<line x1="395.88" y1="293.4" x2="395.88" y2="311.6" stroke="#575757" stroke-width="1.3"/>
<circle cx="395.88" cy="302.2" r="1.55" fill="#961a34"/>
<line x1="395.88" y1="338" x2="395.88" y2="340.3" stroke="#222" stroke-width="0.7"/>
<text x="397.78" y="343.8" font-size="6.2" text-anchor="end" fill="#222" font-weight="normal" transform="rotate(-90 397.78 343.8)">17</text>
<line x1="403.19" y1="296" x2="403.19" y2="307.7" stroke="#575757" stroke-width="1.3"/>
<circle cx="403.19" cy="301.7" r="1.55" fill="#961a34"/>
<line x1="403.19" y1="338" x2="403.19" y2="340.3" stroke="#222" stroke-width="0.7"/>
<text x="405.09" y="343.8" font-size="6.2" text-anchor="end" fill="#222" font-weight="normal" transform="rotate(-90 405.09 343.8)">6</text>
<line x1="410.5" y1="299" x2="410.5" y2="304.3" stroke="#575757" stroke-width="1.3"/>
<circle cx="410.5" cy="301.7" r="1.55" fill="#961a34"/>
<line x1="410.5" y1="338" x2="410.5" y2="340.3" stroke="#222" stroke-width="0.7"/>
<text x="412.4" y="343.8" font-size="6.2" text-anchor="end" fill="#222" font-weight="normal" transform="rotate(-90 412.4 343.8)">1</text>
<line x1="417.81" y1="290" x2="417.81" y2="312.9" stroke="#575757" stroke-width="1.3"/>
<circle cx="417.81" cy="301.2" r="1.55" fill="#961a34"/>
<line x1="417.81" y1="338" x2="417.81" y2="340.3" stroke="#222" stroke-width="0.7"/>
<text x="419.71" y="343.8" font-size="6.2" text-anchor="end" fill="#222" font-weight="normal" transform="rotate(-90 419.71 343.8)">23</text>
<line x1="425.11" y1="292" x2="425.11" y2="309.5" stroke="#575757" stroke-width="1.3"/>
<circle cx="425.11" cy="300.6" r="1.55" fill="#961a34"/>
<line x1="425.11" y1="338" x2="425.11" y2="340.3" stroke="#222" stroke-width="0.7"/>
<text x="427.01" y="343.8" font-size="6.2" text-anchor="end" fill="#222" font-weight="normal" transform="rotate(-90 427.01 343.8)">16</text>
<line x1="432.42" y1="295" x2="432.42" y2="306.4" stroke="#575757" stroke-width="1.3"/>
<circle cx="432.42" cy="300.4" r="1.55" fill="#961a34"/>
<line x1="432.42" y1="338" x2="432.42" y2="340.3" stroke="#222" stroke-width="0.7"/>
<text x="434.32" y="343.8" font-size="6.2" text-anchor="end" fill="#222" font-weight="normal" transform="rotate(-90 434.32 343.8)">4</text>
<line x1="439.73" y1="294" x2="439.73" y2="306.4" stroke="#575757" stroke-width="1.3"/>
<circle cx="439.73" cy="300" r="1.55" fill="#961a34"/>
<line x1="439.73" y1="338" x2="439.73" y2="340.3" stroke="#222" stroke-width="0.7"/>
<text x="441.63" y="343.8" font-size="6.2" text-anchor="end" fill="#222" font-weight="normal" transform="rotate(-90 441.63 343.8)">3</text>
<line x1="447.03" y1="292.9" x2="447.03" y2="307.7" stroke="#575757" stroke-width="1.3"/>
<circle cx="447.03" cy="299.9" r="1.55" fill="#961a34"/>
<line x1="447.03" y1="338" x2="447.03" y2="340.3" stroke="#222" stroke-width="0.7"/>
<text x="448.93" y="343.8" font-size="6.2" text-anchor="end" fill="#222" font-weight="normal" transform="rotate(-90 448.93 343.8)">9</text>
<line x1="454.34" y1="292" x2="454.34" y2="308.4" stroke="#575757" stroke-width="1.3"/>
<circle cx="454.34" cy="299.9" r="1.55" fill="#961a34"/>
<line x1="454.34" y1="338" x2="454.34" y2="340.3" stroke="#222" stroke-width="0.7"/>
<text x="456.24" y="343.8" font-size="6.2" text-anchor="end" fill="#222" font-weight="normal" transform="rotate(-90 456.24 343.8)">8</text>
<line x1="461.65" y1="289.5" x2="461.65" y2="310.8" stroke="#575757" stroke-width="1.3"/>
<circle cx="461.65" cy="299.9" r="1.55" fill="#961a34"/>
<line x1="461.65" y1="338" x2="461.65" y2="340.3" stroke="#222" stroke-width="0.7"/>
<text x="463.55" y="343.8" font-size="6.2" text-anchor="end" fill="#222" font-weight="normal" transform="rotate(-90 463.55 343.8)">11</text>
<line x1="468.95" y1="288" x2="468.95" y2="311.6" stroke="#575757" stroke-width="1.3"/>
<circle cx="468.95" cy="299.4" r="1.55" fill="#961a34"/>
<line x1="468.95" y1="338" x2="468.95" y2="340.3" stroke="#222" stroke-width="0.7"/>
<text x="470.85" y="343.8" font-size="6.2" text-anchor="end" fill="#222" font-weight="normal" transform="rotate(-90 470.85 343.8)">14</text>
<line x1="476.26" y1="289.5" x2="476.26" y2="308.4" stroke="#575757" stroke-width="1.3"/>
<circle cx="476.26" cy="298.6" r="1.55" fill="#961a34"/>
<line x1="476.26" y1="338" x2="476.26" y2="340.3" stroke="#222" stroke-width="0.7"/>
<text x="478.16" y="343.8" font-size="6.2" text-anchor="end" fill="#222" font-weight="normal" transform="rotate(-90 478.16 343.8)">12</text>
<line x1="483.57" y1="288.7" x2="483.57" y2="309" stroke="#575757" stroke-width="1.3"/>
<circle cx="483.57" cy="298" r="1.55" fill="#961a34"/>
<line x1="483.57" y1="338" x2="483.57" y2="340.3" stroke="#222" stroke-width="0.7"/>
<text x="485.47" y="343.8" font-size="6.2" text-anchor="end" fill="#222" font-weight="normal" transform="rotate(-90 485.47 343.8)">15</text>
<line x1="490.88" y1="283" x2="490.88" y2="309.7" stroke="#575757" stroke-width="1.3"/>
<circle cx="490.88" cy="296" r="1.55" fill="#961a34"/>
<line x1="490.88" y1="338" x2="490.88" y2="340.3" stroke="#222" stroke-width="0.7"/>
<text x="492.78" y="343.8" font-size="6.2" text-anchor="end" fill="#222" font-weight="normal" transform="rotate(-90 492.78 343.8)">28</text>
<line x1="498.18" y1="285" x2="498.18" y2="306.4" stroke="#575757" stroke-width="1.3"/>
<circle cx="498.18" cy="295.5" r="1.55" fill="#961a34"/>
<line x1="498.18" y1="338" x2="498.18" y2="340.3" stroke="#222" stroke-width="0.7"/>
<text x="500.08" y="343.8" font-size="6.2" text-anchor="end" fill="#222" font-weight="normal" transform="rotate(-90 500.08 343.8)">26</text>
<line x1="505.49" y1="283.5" x2="505.49" y2="302.5" stroke="#575757" stroke-width="1.3"/>
<circle cx="505.49" cy="292.9" r="1.55" fill="#961a34"/>
<line x1="505.49" y1="338" x2="505.49" y2="340.3" stroke="#222" stroke-width="0.7"/>
<text x="507.39" y="343.8" font-size="6.2" text-anchor="end" fill="#222" font-weight="normal" transform="rotate(-90 507.39 343.8)">20</text>
<line x1="512.8" y1="279" x2="512.8" y2="301.2" stroke="#575757" stroke-width="1.3"/>
<circle cx="512.8" cy="289.5" r="1.55" fill="#1c2a55"/>
<line x1="512.8" y1="338" x2="512.8" y2="340.3" stroke="#222" stroke-width="0.7"/>
<text x="514.7" y="343.8" font-size="6.2" text-anchor="end" fill="#222" font-weight="normal" transform="rotate(-90 514.7 343.8)">13</text>
<text x="409" y="359.6" font-size="7.2" text-anchor="middle" fill="#222" font-weight="normal" textLength="33.5" lengthAdjust="spacingAndGlyphs">Components</text>
<text x="4.1" y="388.7" font-size="12.9" text-anchor="start" fill="#000" font-weight="bold" stroke="#000" stroke-width="0.3">E</text>
<line x1="53.7" y1="400" x2="53.7" y2="488.2" stroke="#111" stroke-width="1.0"/>
<line x1="53.2" y1="487.7" x2="106" y2="487.7" stroke="#111" stroke-width="1.0"/>
<line x1="51.2" y1="401.8" x2="53.7" y2="401.8" stroke="#222" stroke-width="0.7"/>
<text x="48.7" y="404.0" font-size="6.2" text-anchor="end" fill="#222" font-weight="normal">100</text>
<line x1="51.2" y1="422.225" x2="53.7" y2="422.225" stroke="#222" stroke-width="0.7"/>
<text x="48.7" y="424.425" font-size="6.2" text-anchor="end" fill="#222" font-weight="normal">75</text>
<line x1="51.2" y1="442.65" x2="53.7" y2="442.65" stroke="#222" stroke-width="0.7"/>
<text x="48.7" y="444.84999999999997" font-size="6.2" text-anchor="end" fill="#222" font-weight="normal">50</text>
<line x1="51.2" y1="463.075" x2="53.7" y2="463.075" stroke="#222" stroke-width="0.7"/>
<text x="48.7" y="465.275" font-size="6.2" text-anchor="end" fill="#222" font-weight="normal">25</text>
<line x1="51.2" y1="483.5" x2="53.7" y2="483.5" stroke="#222" stroke-width="0.7"/>
<text x="48.7" y="485.7" font-size="6.2" text-anchor="end" fill="#222" font-weight="normal">0</text>
<text x="23.0" y="442.7" font-size="7.0" text-anchor="middle" fill="#222" font-weight="normal" transform="rotate(-90 23.0 442.7)" textLength="60" lengthAdjust="spacingAndGlyphs">Percentage contribution</text>
<text x="32.6" y="443.5" font-size="7.0" text-anchor="middle" fill="#222" font-weight="normal" transform="rotate(-90 32.6 443.5)" textLength="37" lengthAdjust="spacingAndGlyphs">to components</text>
<rect x="57.1" y="401.8" width="14.8" height="6.29" fill="#9a1429"/>
<rect x="57.1" y="408.09" width="14.8" height="4.0" fill="#8b80cc"/>
<rect x="57.1" y="412.09" width="14.8" height="69.61" fill="#5d9f3a"/>
<rect x="57.1" y="481.7" width="14.8" height="1.8" fill="#d6851e"/>
<rect x="73.6" y="401.8" width="14.9" height="20.26" fill="#9a1429"/>
<rect x="73.6" y="422.06" width="14.9" height="8.17" fill="#8b80cc"/>
<rect x="73.6" y="430.23" width="14.9" height="41.5" fill="#5d9f3a"/>
<rect x="73.6" y="471.74" width="14.9" height="11.76" fill="#d6851e"/>
<rect x="90.3" y="401.8" width="14.6" height="13.48" fill="#9a1429"/>
<rect x="90.3" y="415.28" width="14.6" height="4.82" fill="#8b80cc"/>
<rect x="90.3" y="420.1" width="14.6" height="61.6" fill="#5d9f3a"/>
<rect x="90.3" y="481.7" width="14.6" height="1.8" fill="#d6851e"/>
<line x1="64.4" y1="487.7" x2="64.4" y2="490" stroke="#222" stroke-width="0.9"/>
<text x="64.4" y="500.8" font-size="6.4" text-anchor="middle" fill="#222" font-weight="normal">7</text>
<line x1="81.2" y1="487.7" x2="81.2" y2="490" stroke="#222" stroke-width="0.9"/>
<text x="81.2" y="500.8" font-size="6.4" text-anchor="middle" fill="#222" font-weight="normal">13</text>
<line x1="97.5" y1="487.7" x2="97.5" y2="490" stroke="#222" stroke-width="0.9"/>
<text x="97.5" y="500.8" font-size="6.4" text-anchor="middle" fill="#222" font-weight="normal">25</text>
<text x="81.3" y="511.8" font-size="7.2" text-anchor="middle" fill="#222" font-weight="normal" textLength="34.5" lengthAdjust="spacingAndGlyphs">Components</text>
<rect x="109.1" y="427.4" width="8.2" height="8.3" fill="#9a1429"/>
<text x="121" y="433.6" font-size="6.8" text-anchor="start" fill="#222" font-weight="normal" textLength="51" lengthAdjust="spacingAndGlyphs">Cell Metabolomic</text>
<rect x="109.1" y="436.4" width="8.2" height="8.3" fill="#8b80cc"/>
<text x="121" y="442.70000000000005" font-size="6.8" text-anchor="start" fill="#222" font-weight="normal" textLength="51" lengthAdjust="spacingAndGlyphs">PBMC phenotype</text>
<rect x="109.1" y="445.4" width="8.2" height="8.3" fill="#5d9f3a"/>
<text x="121" y="451.8" font-size="6.8" text-anchor="start" fill="#222" font-weight="normal" textLength="60.5" lengthAdjust="spacingAndGlyphs">Plasma Metabolomic</text>
<rect x="109.1" y="454.4" width="8.2" height="8.3" fill="#d6851e"/>
<text x="121" y="460.90000000000003" font-size="6.8" text-anchor="start" fill="#222" font-weight="normal" textLength="36.6" lengthAdjust="spacingAndGlyphs">T cells states</text>
<text x="4.1" y="523.7" font-size="12.9" text-anchor="start" fill="#000" font-weight="bold" stroke="#000" stroke-width="0.3">F</text>
<circle cx="39.5" cy="617.5" r="27.3" fill="#5d9f3a"/>
<circle cx="39.5" cy="617.5" r="25.8" fill="none" stroke="#d8ead0" stroke-width="0.6"/>
<line x1="39.5" y1="606" x2="39.5" y2="644.5" stroke="#7a6a2a" stroke-width="0.45" stroke-opacity="0.7"/>
<rect x="29.2" y="586.2" width="21.6" height="21.8" rx="3.5" fill="#fff" fill-opacity="0.12"/>
<path d="M36.6,590.6 L42.6,590.6 L39.6,605.8 Z" fill="#f4e8e0"/>
<path d="M38.1,590.6 L41,590.6 L39.6,605 Z" fill="#b02848"/>
<path d="M41.1,590.6 L42,590.6 L39.7,604 Z" fill="#c8b8e0"/>
<rect x="29.2" y="586.2" width="21.6" height="21.8" rx="3.5" fill="none" stroke="#3d4a35" stroke-width="0.7"/>
<line x1="29.5" y1="586.5" x2="57" y2="533.7" stroke="#444" stroke-width="0.55"/>
<circle cx="57" cy="533.7" r="0.9" fill="#333"/>
<line x1="50.8" y1="604.8" x2="127" y2="597.5" stroke="#444" stroke-width="0.55"/>
<circle cx="127" cy="597.5" r="0.9" fill="#333"/>
<path d="M59.5,537.5 Q95,531 130,537.5 L130,592.5 Q130,595.5 127,595.5 L62.5,595.5 Q59.5,595.5 59.5,592.5 Z" fill="#5d9f3a"/>
<path d="M59.5,530 Q95,524 130,530 L130,536 Q95,530 59.5,536 Z" fill="#5d9f3a"/>
<path d="M78.8,527.3 L86.3,526.6 L86.3,532.6 L78.8,533.3 Z" fill="#d6851e"/>
<path d="M88,526.4 L101,526.4 L101,532.4 L88,532.4 Z" fill="#9a1429"/>
<path d="M103,526.6 L111,527.2 L111,533.2 L103,532.6 Z" fill="#8b80cc"/>
<path d="M77.3,526 L78.6,526 L78.6,534 L77.3,534 Z" fill="#fff"/>
<path d="M86.4,526 L87.9,526 L87.9,534 L86.4,534 Z" fill="#fff"/>
<path d="M101.1,526 L102.9,526 L102.9,534 L101.1,534 Z" fill="#fff"/>
<path d="M111.1,526 L112.8,526 L112.8,534 L111.1,534 Z" fill="#fff"/>
<path d="M77.5,534 Q80.5,584 94.8,595 Q110,584 114,534 Z" fill="#fff"/>
<path d="M79.8,534.5 L87.3,534.5 Q89,581 94.4,593.5 Q83.5,580 79.8,534.5 Z" fill="#d9a070"/>
<path d="M81.5,534.5 L85.6,534.5 Q87.3,580 94.2,592.5 Q85,578 81.5,534.5 Z" fill="#c8a0a0"/>
<path d="M88.5,534.5 L101.3,534.5 Q99.5,582 95,594 Q90,582 88.5,534.5 Z" fill="#a8303f"/>
<path d="M102.5,534.5 L111,534.5 Q106.5,582 95.6,593.5 Q101,580 102.5,534.5 Z" fill="#9d90d0"/>
<rect x="86.6" y="610.7" width="8.1" height="8.2" fill="#9a1429"/>
<text x="98.3" y="617.0" font-size="6.8" text-anchor="start" fill="#222" font-weight="normal" textLength="51" lengthAdjust="spacingAndGlyphs">Cell Metabolomic</text>
<rect x="86.6" y="619.7" width="8.1" height="8.2" fill="#8b80cc"/>
<text x="98.3" y="626.1" font-size="6.8" text-anchor="start" fill="#222" font-weight="normal" textLength="51.5" lengthAdjust="spacingAndGlyphs">PBMC phenotype</text>
<rect x="86.6" y="628.7" width="8.1" height="8.2" fill="#5d9f3a"/>
<text x="98.3" y="635.2" font-size="6.8" text-anchor="start" fill="#222" font-weight="normal" textLength="60.2" lengthAdjust="spacingAndGlyphs">Plasma Metabolomic</text>
<rect x="86.6" y="637.7" width="8.1" height="8.2" fill="#d6851e"/>
<text x="98.3" y="644.3" font-size="6.8" text-anchor="start" fill="#222" font-weight="normal" textLength="36.8" lengthAdjust="spacingAndGlyphs">T cells states</text>
<text x="198.7" y="388.7" font-size="12.9" text-anchor="start" fill="#000" font-weight="bold" stroke="#000" stroke-width="0.3">G</text>
<path d="M376,396 C390,396 398,420 398,458 C398,498 386,524 366,528 C351,531 346,512 346.5,488 C347,452 352,420 360,404 C365,397 370,396 376,396 Z" fill="#f6e9bf"/>
<ellipse cx="278" cy="471" rx="17.5" ry="8.5" fill="#f6e9bf"/>
<ellipse cx="254.5" cy="609.5" rx="15.3" ry="30.5" fill="#f6e9bf"/>
<ellipse cx="317.5" cy="622" rx="19" ry="31" fill="#f6e9bf"/>
<path d="M462,547.5 C472,547.5 476.5,560 476,578 C475.5,598 468,615 452,615 C444,615 443,605 445,590 C447,570 450,547.5 462,547.5 Z" fill="#f6e9bf"/>
<line x1="370" y1="408.3" x2="369.5" y2="497.5" stroke="#b8b09a" stroke-width="0.5"/>
<line x1="379.8" y1="402.5" x2="369.5" y2="497.5" stroke="#b8b09a" stroke-width="0.5"/>
<line x1="373.3" y1="433" x2="369.5" y2="497.5" stroke="#b8b09a" stroke-width="0.5"/>
<line x1="362" y1="454" x2="369.5" y2="497.5" stroke="#b8b09a" stroke-width="0.5"/>
<line x1="364.7" y1="463" x2="369.5" y2="497.5" stroke="#b8b09a" stroke-width="0.5"/>
<line x1="384" y1="460" x2="369.5" y2="497.5" stroke="#b8b09a" stroke-width="0.5"/>
<line x1="374" y1="472.8" x2="369.5" y2="497.5" stroke="#b8b09a" stroke-width="0.5"/>
<line x1="381.3" y1="483" x2="369.5" y2="497.5" stroke="#b8b09a" stroke-width="0.5"/>
<line x1="359.4" y1="517" x2="369.5" y2="497.5" stroke="#b8b09a" stroke-width="0.5"/>
<line x1="372" y1="507.5" x2="369.5" y2="497.5" stroke="#b8b09a" stroke-width="0.5"/>
<line x1="370" y1="408.3" x2="373.3" y2="433" stroke="#c8c0a8" stroke-width="0.4"/>
<line x1="379.8" y1="402.5" x2="373.3" y2="433" stroke="#c8c0a8" stroke-width="0.4"/>
<line x1="373.3" y1="433" x2="362" y2="454" stroke="#c8c0a8" stroke-width="0.4"/>
<line x1="373.3" y1="433" x2="364.7" y2="463" stroke="#c8c0a8" stroke-width="0.4"/>
<line x1="364.7" y1="463" x2="374" y2="472.8" stroke="#c8c0a8" stroke-width="0.4"/>
<line x1="362" y1="454" x2="384" y2="460" stroke="#c8c0a8" stroke-width="0.4"/>
<path d="M373.3,434 L366,497 L371,497 Z" fill="#aaa39a" fill-opacity="0.5"/>
<path d="M364,465 L366,497 L369,497 Z" fill="#999" fill-opacity="0.5"/>
<line x1="366" y1="440" x2="369.5" y2="497.5" stroke="#b5ae98" stroke-width="0.45"/>
<line x1="368" y1="440" x2="369.5" y2="497.5" stroke="#b5ae98" stroke-width="0.45"/>
<line x1="370" y1="440" x2="369.5" y2="497.5" stroke="#b5ae98" stroke-width="0.45"/>
<line x1="372" y1="440" x2="369.5" y2="497.5" stroke="#b5ae98" stroke-width="0.45"/>
<line x1="362" y1="470" x2="369.5" y2="497.5" stroke="#b5ae98" stroke-width="0.45"/>
<line x1="365" y1="470" x2="369.5" y2="497.5" stroke="#b5ae98" stroke-width="0.45"/>
<line x1="378" y1="470" x2="369.5" y2="497.5" stroke="#b5ae98" stroke-width="0.45"/>
<line x1="381" y1="470" x2="369.5" y2="497.5" stroke="#b5ae98" stroke-width="0.45"/>
<line x1="376" y1="480" x2="369.5" y2="497.5" stroke="#b5ae98" stroke-width="0.45"/>
<line x1="360" y1="480" x2="369.5" y2="497.5" stroke="#b5ae98" stroke-width="0.45"/>
<line x1="351.5" y1="474" x2="367.5" y2="498" stroke="#1a1a1a" stroke-width="0.65"/>
<line x1="351.5" y1="479.8" x2="367.5" y2="498" stroke="#1a1a1a" stroke-width="0.65"/>
<line x1="352.5" y1="485.6" x2="367.5" y2="498" stroke="#1a1a1a" stroke-width="0.65"/>
<line x1="354.5" y1="490.8" x2="367.5" y2="498" stroke="#1a1a1a" stroke-width="0.65"/>
<line x1="355" y1="496" x2="367.5" y2="498" stroke="#1a1a1a" stroke-width="0.65"/>
<line x1="359.2" y1="429.6" x2="371.2" y2="433" stroke="#222" stroke-width="0.5"/>
<line x1="372" y1="500" x2="376" y2="505" stroke="#222" stroke-width="0.45"/>
<line x1="367" y1="500" x2="359.4" y2="517" stroke="#555" stroke-width="0.45"/>
<line x1="374" y1="472.8" x2="384.5" y2="473.5" stroke="#222" stroke-width="0.45"/>
<line x1="381.3" y1="483" x2="383.5" y2="483.6" stroke="#222" stroke-width="0.45"/>
<line x1="371" y1="495" x2="382" y2="490" stroke="#222" stroke-width="0.45"/>
<line x1="350.3" y1="557" x2="366" y2="570" stroke="#8a8a8a" stroke-width="0.7" stroke-opacity="0.45"/>
<line x1="350.3" y1="557" x2="351" y2="592" stroke="#8a8a8a" stroke-width="0.7" stroke-opacity="0.45"/>
<line x1="338.3" y1="571" x2="351" y2="592" stroke="#8a8a8a" stroke-width="0.7" stroke-opacity="0.45"/>
<line x1="338.3" y1="571" x2="366" y2="570" stroke="#8a8a8a" stroke-width="0.7" stroke-opacity="0.45"/>
<line x1="349.2" y1="578.5" x2="366" y2="570" stroke="#8a8a8a" stroke-width="0.7" stroke-opacity="0.45"/>
<line x1="337.7" y1="578.5" x2="366" y2="570" stroke="#8a8a8a" stroke-width="0.7" stroke-opacity="0.45"/>
<line x1="337.7" y1="578.5" x2="349" y2="590" stroke="#8a8a8a" stroke-width="0.7" stroke-opacity="0.45"/>
<line x1="349.2" y1="578.5" x2="351" y2="592" stroke="#8a8a8a" stroke-width="0.7" stroke-opacity="0.45"/>
<line x1="363" y1="541" x2="363" y2="562" stroke="#8a8a8a" stroke-width="0.7" stroke-opacity="0.45"/>
<line x1="366" y1="570" x2="386" y2="586" stroke="#8a8a8a" stroke-width="0.7" stroke-opacity="0.45"/>
<line x1="366" y1="570" x2="369" y2="604" stroke="#8a8a8a" stroke-width="0.7" stroke-opacity="0.45"/>
<line x1="351" y1="592" x2="369" y2="604" stroke="#8a8a8a" stroke-width="0.7" stroke-opacity="0.45"/>
<line x1="386" y1="586" x2="369" y2="604" stroke="#8a8a8a" stroke-width="0.7" stroke-opacity="0.45"/>
<line x1="378" y1="547" x2="366" y2="570" stroke="#8a8a8a" stroke-width="0.7" stroke-opacity="0.45"/>
<line x1="379.2" y1="550.8" x2="366" y2="570" stroke="#8a8a8a" stroke-width="0.7" stroke-opacity="0.45"/>
<line x1="387.2" y1="565.4" x2="366" y2="570" stroke="#8a8a8a" stroke-width="0.7" stroke-opacity="0.45"/>
<line x1="385.4" y1="574.6" x2="386" y2="586" stroke="#8a8a8a" stroke-width="0.7" stroke-opacity="0.45"/>
<line x1="396.2" y1="557" x2="386" y2="586" stroke="#8a8a8a" stroke-width="0.7" stroke-opacity="0.45"/>
<line x1="396.5" y1="570" x2="386" y2="586" stroke="#8a8a8a" stroke-width="0.7" stroke-opacity="0.45"/>
<line x1="351" y1="592" x2="386" y2="586" stroke="#8a8a8a" stroke-width="0.7" stroke-opacity="0.45"/>
<line x1="386" y1="586" x2="396" y2="612" stroke="#8a8a8a" stroke-width="0.7" stroke-opacity="0.45"/>
<line x1="369" y1="604" x2="396" y2="612" stroke="#8a8a8a" stroke-width="0.7" stroke-opacity="0.45"/>
<line x1="386" y1="586" x2="394" y2="624" stroke="#8a8a8a" stroke-width="0.7" stroke-opacity="0.45"/>
<line x1="369" y1="604" x2="395" y2="624" stroke="#8a8a8a" stroke-width="0.7" stroke-opacity="0.45"/>
<line x1="351" y1="592" x2="347.7" y2="617" stroke="#8a8a8a" stroke-width="0.7" stroke-opacity="0.45"/>
<line x1="369" y1="604" x2="373" y2="625" stroke="#8a8a8a" stroke-width="0.7" stroke-opacity="0.45"/>
<line x1="351" y1="592" x2="373" y2="625" stroke="#8a8a8a" stroke-width="0.7" stroke-opacity="0.45"/>
<line x1="366" y1="570" x2="404.4" y2="531" stroke="#8a8a8a" stroke-width="0.7" stroke-opacity="0.45"/>
<line x1="378" y1="547" x2="404.4" y2="531" stroke="#8a8a8a" stroke-width="0.7" stroke-opacity="0.45"/>
<line x1="366" y1="570" x2="420" y2="520" stroke="#8a8a8a" stroke-width="0.7" stroke-opacity="0.45"/>
<line x1="404.4" y1="531" x2="420.8" y2="520" stroke="#8a8a8a" stroke-width="0.7" stroke-opacity="0.45"/>
<line x1="386" y1="586" x2="450" y2="595" stroke="#8a8a8a" stroke-width="0.7" stroke-opacity="0.45"/>
<line x1="386" y1="586" x2="455" y2="580" stroke="#8a8a8a" stroke-width="0.7" stroke-opacity="0.45"/>
<line x1="396" y1="612" x2="455" y2="611" stroke="#8a8a8a" stroke-width="0.7" stroke-opacity="0.45"/>
<line x1="386" y1="586" x2="440" y2="600" stroke="#8a8a8a" stroke-width="0.7" stroke-opacity="0.45"/>
<line x1="369" y1="604" x2="320" y2="600" stroke="#8a8a8a" stroke-width="0.7" stroke-opacity="0.45"/>
<line x1="351" y1="592" x2="318" y2="606" stroke="#8a8a8a" stroke-width="0.7" stroke-opacity="0.45"/>
<line x1="365" y1="572" x2="351" y2="592" stroke="#777" stroke-width="3.0" stroke-opacity="0.45"/>
<line x1="366" y1="572" x2="369" y2="603" stroke="#777" stroke-width="2.6" stroke-opacity="0.45"/>
<line x1="366" y1="570" x2="386" y2="586" stroke="#777" stroke-width="2.2" stroke-opacity="0.4"/>
<line x1="379" y1="550" x2="366" y2="568" stroke="#777" stroke-width="2.0" stroke-opacity="0.45"/>
<line x1="385" y1="566" x2="366" y2="570" stroke="#777" stroke-width="1.6" stroke-opacity="0.45"/>
<line x1="396" y1="558" x2="386" y2="585" stroke="#777" stroke-width="1.5" stroke-opacity="0.4"/>
<line x1="351" y1="592" x2="369" y2="604" stroke="#777" stroke-width="1.6" stroke-opacity="0.4"/>
<line x1="362" y1="575" x2="350" y2="596" stroke="#777" stroke-width="2.5" stroke-opacity="0.35"/>
<path d="M362,572 L369,574 L354.5,600 L349,596 Z" fill="#8a8a8a" fill-opacity="0.45"/>
<path d="M364,576 L369,576 L372,600 L366,600 Z" fill="#8a8a8a" fill-opacity="0.4"/>
<path d="M368,566 L372,572 L384,588 L381,590 Z" fill="#8a8a8a" fill-opacity="0.35"/>
<path d="M350,596 L355,594 L366,606 L364,610 Z" fill="#8a8a8a" fill-opacity="0.35"/>
<path d="M353,560 L358,560 L362,572 L350,588 Z" fill="#bbb" fill-opacity="0.35"/>
<path d="M370,585 L380,584 L378,598 L372,600 Z" fill="#bbb" fill-opacity="0.35"/>
<ellipse cx="366.9" cy="571.6" rx="7.8" ry="10.7" fill="none" stroke="#8a8a8a" stroke-width="0.5"/>
<ellipse cx="350.4" cy="594.7" rx="8" ry="11" fill="none" stroke="#8a8a8a" stroke-width="0.5"/>
<ellipse cx="386.1" cy="587.9" rx="6.9" ry="10.9" fill="none" stroke="#8a8a8a" stroke-width="0.5"/>
<ellipse cx="369.6" cy="604.3" rx="8.3" ry="13.6" fill="none" stroke="#8a8a8a" stroke-width="0.5"/>
<path d="M376,545 L398,555 L399,572 L387,577 L378,560 Z" fill="none" stroke="#8a8a8a" stroke-width="0.5"/>
<line x1="378" y1="547" x2="396.2" y2="557" stroke="#666" stroke-width="0.8" stroke-opacity="0.6"/>
<line x1="379.2" y1="550.8" x2="387.2" y2="565.4" stroke="#666" stroke-width="0.8" stroke-opacity="0.6"/>
<line x1="387.2" y1="565.4" x2="396.5" y2="570" stroke="#666" stroke-width="0.8" stroke-opacity="0.6"/>
<line x1="396.2" y1="557" x2="396.5" y2="570" stroke="#666" stroke-width="0.8" stroke-opacity="0.6"/>
<line x1="379.2" y1="550.8" x2="385.4" y2="574.6" stroke="#666" stroke-width="0.8" stroke-opacity="0.6"/>
<line x1="387.2" y1="565.4" x2="403.8" y2="562.3" stroke="#666" stroke-width="0.8" stroke-opacity="0.6"/>
<ellipse cx="273.3" cy="520.2" rx="5.8" ry="5.8" fill="#fff" stroke="#888" stroke-width="0.5"/>
<rect x="309.2" y="392.5" width="8.8" height="8.7" fill="#212e66" stroke="#101838" stroke-width="0.45"/>
<rect x="332" y="388.7" width="5.7" height="5.1" fill="#212e66" stroke="#101838" stroke-width="0.45"/>
<rect x="371.2" y="431" width="4.3" height="4.6" fill="#212e66" stroke="#101838" stroke-width="0.45"/>
<rect x="359.8" y="452" width="4.9" height="4.7" fill="#212e66" stroke="#101838" stroke-width="0.45"/>
<rect x="362" y="461" width="5" height="4.7" fill="#212e66" stroke="#101838" stroke-width="0.45"/>
<rect x="365.8" y="494.3" width="8.6" height="8.7" fill="#212e66" stroke="#101838" stroke-width="0.45"/>
<rect x="351.8" y="498.6" width="6.5" height="6.4" fill="#212e66" stroke="#101838" stroke-width="0.45"/>
<rect x="227" y="514.4" width="4.5" height="4.4" fill="#212e66" stroke="#101838" stroke-width="0.45"/>
<rect x="214.6" y="527.3" width="5.8" height="5.2" fill="#212e66" stroke="#101838" stroke-width="0.45"/>
<rect x="348.2" y="555" width="4.1" height="4.2" fill="#212e66" stroke="#101838" stroke-width="0.45"/>
<rect x="335.8" y="568.5" width="5.0" height="5.3" fill="#212e66" stroke="#101838" stroke-width="0.45"/>
<rect x="347.5" y="587.3" width="5.8" height="5.7" fill="#212e66" stroke="#101838" stroke-width="0.45"/>
<rect x="349.8" y="592" width="4.0" height="5" fill="#212e66" stroke="#101838" stroke-width="0.45"/>
<rect x="350.3" y="596.5" width="3.2" height="4.0" fill="#212e66" stroke="#101838" stroke-width="0.45"/>
<rect x="350.8" y="600" width="2.2" height="3.4" fill="#212e66" stroke="#101838" stroke-width="0.45"/>
<rect x="364.5" y="562" width="5.5" height="6" fill="#212e66" stroke="#101838" stroke-width="0.45"/>
<rect x="363.5" y="566" width="6.0" height="6" fill="#212e66" stroke="#101838" stroke-width="0.45"/>
<rect x="362.5" y="570" width="6.0" height="6" fill="#212e66" stroke="#101838" stroke-width="0.45"/>
<rect x="361.5" y="574" width="5.5" height="6" fill="#212e66" stroke="#101838" stroke-width="0.45"/>
<rect x="366" y="563" width="3.5" height="3" fill="#212e66" stroke="#101838" stroke-width="0.45"/>
<rect x="380.8" y="583" width="8.4" height="10" fill="#212e66" stroke="#101838" stroke-width="0.45"/>
<rect x="384.6" y="577.7" width="4.6" height="4.6" fill="#212e66" stroke="#101838" stroke-width="0.45"/>
<rect x="368.8" y="593" width="5.2" height="5.8" fill="#212e66" stroke="#101838" stroke-width="0.45"/>
<rect x="363.6" y="596" width="4.1" height="3.4" fill="#212e66" stroke="#101838" stroke-width="0.45"/>
<rect x="364.8" y="599.4" width="8.6" height="7.6" fill="#212e66" stroke="#101838" stroke-width="0.45"/>
<rect x="364.2" y="607" width="11.0" height="8.5" fill="#212e66" stroke="#101838" stroke-width="0.45"/>
<rect x="392.3" y="607.7" width="7.7" height="8.5" fill="#212e66" stroke="#101838" stroke-width="0.45"/>
<rect x="393.5" y="623" width="3.2" height="2.8" fill="#212e66" stroke="#101838" stroke-width="0.45"/>
<rect x="343" y="613.5" width="9.3" height="10.0" fill="#212e66" stroke="#101838" stroke-width="0.45"/>
<rect x="243.5" y="584.8" width="4.8" height="5.8" fill="#212e66" stroke="#101838" stroke-width="0.45"/>
<rect x="252" y="604" width="3" height="3" fill="#212e66" stroke="#101838" stroke-width="0.45"/>
<rect x="247.3" y="607" width="2.3" height="4.7" fill="#212e66" stroke="#101838" stroke-width="0.45"/>
<rect x="319" y="594" width="4" height="4.3" fill="#212e66" stroke="#101838" stroke-width="0.45"/>
<rect x="304.6" y="599" width="1.9" height="3" fill="#212e66" stroke="#101838" stroke-width="0.45"/>
<rect x="319" y="606" width="4" height="3.8" fill="#212e66" stroke="#101838" stroke-width="0.45"/>
<rect x="313.8" y="609.2" width="4.2" height="4.5" fill="#212e66" stroke="#101838" stroke-width="0.45"/>
<rect x="311.3" y="620.4" width="2.5" height="2.3" fill="#212e66" stroke="#101838" stroke-width="0.45"/>
<rect x="308.5" y="626" width="6.1" height="7" fill="#212e66" stroke="#101838" stroke-width="0.45"/>
<rect x="309.4" y="635.8" width="7.6" height="7.7" fill="#212e66" stroke="#101838" stroke-width="0.45"/>
<rect x="322" y="637.3" width="4" height="4.2" fill="#212e66" stroke="#101838" stroke-width="0.45"/>
<rect x="318" y="645.4" width="4" height="3.8" fill="#212e66" stroke="#101838" stroke-width="0.45"/>
<rect x="461" y="552.3" width="4.8" height="4.7" fill="#212e66" stroke="#101838" stroke-width="0.45"/>
<rect x="451.7" y="576.7" width="6.8" height="7.7" fill="#212e66" stroke="#101838" stroke-width="0.45"/>
<rect x="456.5" y="580.6" width="4.8" height="5.7" fill="#212e66" stroke="#101838" stroke-width="0.45"/>
<rect x="455.6" y="590" width="4.8" height="5" fill="#212e66" stroke="#101838" stroke-width="0.45"/>
<rect x="459.4" y="594" width="3.3" height="4" fill="#212e66" stroke="#101838" stroke-width="0.45"/>
<rect x="485.4" y="607" width="3.4" height="3.8" fill="#212e66" stroke="#101838" stroke-width="0.45"/>
<rect x="380.4" y="482" width="2.6" height="2.5" fill="#212e66" stroke="#101838" stroke-width="0.45"/>
<rect x="369.1" y="407.40000000000003" width="1.8" height="1.8" fill="#111"/>
<rect x="378.90000000000003" y="401.6" width="1.8" height="1.8" fill="#111"/>
<rect x="383.1" y="459.1" width="1.8" height="1.8" fill="#111"/>
<rect x="373.1" y="471.90000000000003" width="1.8" height="1.8" fill="#111"/>
<rect x="403.5" y="530.1" width="1.8" height="1.8" fill="#111"/>
<rect x="377.1" y="546.1" width="1.8" height="1.8" fill="#111"/>
<rect x="378.3" y="549.9" width="1.8" height="1.8" fill="#111"/>
<rect x="395.3" y="556.1" width="1.8" height="1.8" fill="#111"/>
<rect x="386.3" y="564.5" width="1.8" height="1.8" fill="#111"/>
<rect x="395.6" y="569.1" width="1.8" height="1.8" fill="#111"/>
<rect x="384.5" y="573.7" width="1.8" height="1.8" fill="#111"/>
<rect x="358.5" y="516.1" width="1.8" height="1.8" fill="#111"/>
<rect x="462.90000000000003" y="577.4" width="1.8" height="1.8" fill="#111"/>
<rect x="455.1" y="610.1" width="1.8" height="1.8" fill="#111"/>
<rect x="336.8" y="577.6" width="1.8" height="1.8" fill="#111"/>
<rect x="348.3" y="577.6" width="1.8" height="1.8" fill="#111"/>
<rect x="248.1" y="596.1" width="1.8" height="1.8" fill="#111"/>
<rect x="250.1" y="613.1" width="1.8" height="1.8" fill="#111"/>
<rect x="248.1" y="624.1" width="1.8" height="1.8" fill="#111"/>
<rect x="249.1" y="631.1" width="1.8" height="1.8" fill="#111"/>
<rect x="252.1" y="598.1" width="1.8" height="1.8" fill="#111"/>
<rect x="251.1" y="611.1" width="1.8" height="1.8" fill="#111"/>
<path d="M202,521 L211.7,521 L206.85,529.6 Z" fill="#212e66"/>
<path d="M202.7,536.3 L210.4,536.3 L206.55,542 Z" fill="#212e66"/>
<path d="M241.5,503 L250.2,503 L245.85,510.6 Z" fill="#212e66"/>
<path d="M269.4,516.3 L278,516.3 L273.7,525 Z" fill="#212e66"/>
<path d="M265.6,469 L272.3,469 L268.95000000000005,475.5 Z" fill="#212e66"/>
<path d="M274,465 L280,465 L277.0,470.5 Z" fill="#212e66"/>
<path d="M279,473 L282,473 L280.5,476 Z" fill="#212e66"/>
<path d="M293.5,536.5 L302,536.5 L297.75,528.5 Z" fill="#212e66"/>
<path d="M296,534 L304,534 L300.0,526.5 Z" fill="#212e66"/>
<path d="M319.4,546 L327,546 L323.2,539.4 Z" fill="#212e66"/>
<path d="M482,508.7 L494,508.7 L488.0,498.3 Z" fill="#212e66"/>
<circle cx="444.6" cy="505.8" r="4.2" fill="#212e66" stroke="#101838" stroke-width="0.45"/>
<circle cx="449.8" cy="497.7" r="2.7" fill="#212e66" stroke="#101838" stroke-width="0.45"/>
<circle cx="472.1" cy="481.8" r="2.3" fill="#212e66" stroke="#101838" stroke-width="0.45"/>
<circle cx="427.7" cy="513.5" r="3.3" fill="#212e66" stroke="#101838" stroke-width="0.45"/>
<circle cx="425.4" cy="517" r="2.9" fill="#212e66" stroke="#101838" stroke-width="0.45"/>
<circle cx="373" cy="625.4" r="4.2" fill="#212e66" stroke="#101838" stroke-width="0.45"/>
<circle cx="472.3" cy="644" r="4.2" fill="#212e66" stroke="#101838" stroke-width="0.45"/>
<line x1="203" y1="494" x2="207" y2="522" stroke="#222" stroke-width="0.7"/>
<line x1="221.3" y1="501" x2="227" y2="515" stroke="#222" stroke-width="0.7"/>
<line x1="249.2" y1="507.7" x2="268.5" y2="519.2" stroke="#aaa" stroke-width="0.8"/>
<line x1="274.6" y1="482.5" x2="274.6" y2="514.3" stroke="#aaa" stroke-width="0.5"/>
<path d="M274.6,480.5 L273.5,483.5 L275.7,483.5 Z" fill="#333"/>
<line x1="280" y1="523" x2="322" y2="543" stroke="#bbb" stroke-width="0.9"/>
<line x1="298.3" y1="528" x2="306" y2="525" stroke="#222" stroke-width="0.5"/>
<line x1="291.5" y1="538.5" x2="295.4" y2="533.7" stroke="#222" stroke-width="0.5"/>
<line x1="303" y1="562.5" x2="321.3" y2="545.2" stroke="#222" stroke-width="0.6"/>
<line x1="289.8" y1="455" x2="289.8" y2="470" stroke="#222" stroke-width="0.5"/>
<path d="M289.8,472 L288.8,469.5 L290.8,469.5 Z" fill="#222"/>
<line x1="273" y1="588" x2="343" y2="588" stroke="#666" stroke-width="0.5"/>
<path d="M270.5,588 L273.5,586.8 L273.5,589.2 Z" fill="#222"/>
<line x1="340" y1="609.8" x2="370" y2="609.8" stroke="#666" stroke-width="0.5"/>
<path d="M336.5,609.8 L339.5,608.6 L339.5,611 Z" fill="#222"/>
<line x1="363" y1="531" x2="363" y2="541" stroke="#aaa" stroke-width="0.5"/>
<path d="M363,528 L362,531 L364,531 Z" fill="#222"/>
<line x1="487.7" y1="509.6" x2="487.7" y2="520" stroke="#888" stroke-width="1.0"/>
<line x1="420" y1="596" x2="442" y2="600.5" stroke="#555" stroke-width="0.5"/>
<path d="M444.5,601 L441.3,599.3 L441,601.7 Z" fill="#222"/>
<line x1="374.6" y1="628.7" x2="377.5" y2="634.4" stroke="#222" stroke-width="0.5"/>
<line x1="345.5" y1="624" x2="343" y2="630" stroke="#222" stroke-width="0.5"/>
<line x1="447" y1="484" x2="470" y2="483" stroke="#ccc" stroke-width="0.3"/>
<line x1="430" y1="512" x2="470" y2="484" stroke="#ccc" stroke-width="0.3"/>
<line x1="463.4" y1="557" x2="463.4" y2="590" stroke="#aaa" stroke-width="0.4"/>
<line x1="329" y1="565.5" x2="335.8" y2="570" stroke="#222" stroke-width="0.45"/>
<line x1="326" y1="571" x2="337" y2="577" stroke="#222" stroke-width="0.45"/>
<line x1="326" y1="579" x2="337.7" y2="578.5" stroke="#222" stroke-width="0.45"/>
<line x1="455" y1="572" x2="453" y2="577" stroke="#222" stroke-width="0.45"/>
<circle cx="434.2" cy="379.6" r="2.0" fill="none" stroke="#222" stroke-width="0.75"/>
<path d="M431.9,386.8 L436.5,386.8 L434.2,391 Z" fill="none" stroke="#222" stroke-width="0.75"/>
<rect x="432.4" y="395.5" width="4" height="3.8" fill="none" stroke="#222" stroke-width="0.75"/>
<path d="M431.7,407.7 L436.7,407.7 L434.2,403.1 Z" fill="none" stroke="#222" stroke-width="0.75"/>
<text x="439.8" y="382.2" font-size="6.0" fill="#303030" textLength="44.4" lengthAdjust="spacingAndGlyphs">Cell Metabolomic</text>
<text x="439.8" y="391.2" font-size="6.0" fill="#303030" textLength="43.3" lengthAdjust="spacingAndGlyphs">PBMC phenotype</text>
<text x="439.8" y="399.7" font-size="6.0" fill="#303030" textLength="51.2" lengthAdjust="spacingAndGlyphs">Plasma Metabolomic</text>
<text x="439.8" y="408.4" font-size="6.0" fill="#303030" textLength="31.0" lengthAdjust="spacingAndGlyphs">T cells states</text>
<text x="431.5" y="415.9" font-size="6.0" fill="#303030" textLength="56.1" lengthAdjust="spacingAndGlyphs">Percent contribution to</text>
<text x="431.5" y="421.6" font-size="6.0" fill="#303030" textLength="58.1" lengthAdjust="spacingAndGlyphs">components 7, 13 or 25</text>
<defs><linearGradient id="gb" x1="0" x2="1"><stop offset="0" stop-color="#9aa0c0"/><stop offset="0.12" stop-color="#212e66"/><stop offset="1" stop-color="#212e66"/></linearGradient><linearGradient id="gs" x1="0" x2="1"><stop offset="0" stop-color="#eee"/><stop offset="1" stop-color="#111"/></linearGradient></defs>
<rect x="442.5" y="426.5" width="35" height="3.4" fill="url(#gb)"/>
<text x="438.3" y="429.5" font-size="6.0" fill="#303030" textLength="2.4" lengthAdjust="spacingAndGlyphs">0</text>
<text x="478.8" y="429.5" font-size="6.0" fill="#303030" textLength="8.8" lengthAdjust="spacingAndGlyphs">100</text>
<text x="444.3" y="434.8" font-size="5" fill="#303030" textLength="1.7" lengthAdjust="spacingAndGlyphs">1</text>
<text x="431.7" y="440.9" font-size="6.0" fill="#303030" textLength="49.8" lengthAdjust="spacingAndGlyphs">Sum of contributions</text>
<text x="435" y="449.4" font-size="6.0" fill="#303030" textLength="10.9" lengthAdjust="spacingAndGlyphs">&lt;1%</text>
<text x="479.5" y="449.4" font-size="6.0" fill="#303030" textLength="10.1" lengthAdjust="spacingAndGlyphs">15%</text>
<path d="M447.9,447.1 L472.8,444.6 L472.8,450.1 Z" fill="none" stroke="#222" stroke-width="0.55"/>
<circle cx="474.1" cy="447.4" r="3.0" fill="#212e66"/>
<text x="435" y="460.1" font-size="6.0" fill="#303030" textLength="56" lengthAdjust="spacingAndGlyphs">Absolute Spearman’s ρ</text>
<text x="438.5" y="472.3" font-size="6.0" fill="#303030" textLength="6.7" lengthAdjust="spacingAndGlyphs">0.4</text>
<text x="478.8" y="472.3" font-size="6.0" fill="#303030" textLength="7.4" lengthAdjust="spacingAndGlyphs">0.9</text>
<path d="M446.5,470.7 L478.5,469.8 L478.5,471.7 Z" fill="url(#gs)"/>
<text x="261" y="398.3" font-size="4.8" fill="#303030" textLength="45.3" lengthAdjust="spacingAndGlyphs">cholic acid glucuronide</text>
<text x="340" y="393.6" font-size="4.8" fill="#303030" textLength="19" lengthAdjust="spacingAndGlyphs">glutamate</text>
<text x="382.3" y="403.6" font-size="4.8" fill="#303030" textLength="24.0" lengthAdjust="spacingAndGlyphs">plasmalogen</text>
<text x="343" y="410.4" font-size="4.8" fill="#303030" textLength="24" lengthAdjust="spacingAndGlyphs">plasmalogen</text>
<text x="343" y="430.6" font-size="4.8" fill="#303030" textLength="14.7" lengthAdjust="spacingAndGlyphs">acisoga</text>
<text x="244" y="438.3" font-size="4.8" fill="#303030" textLength="49" lengthAdjust="spacingAndGlyphs">State 6 TIGIT+PD1+Tox+</text>
<text x="249" y="443.6" font-size="4.8" fill="#303030" textLength="44.5" lengthAdjust="spacingAndGlyphs">in CM double negative</text>
<text x="274" y="448.6" font-size="4.8" fill="#303030" textLength="21" lengthAdjust="spacingAndGlyphs">T cells (21)</text>
<text x="284" y="453.9" font-size="4.8" fill="#303030" textLength="11" lengthAdjust="spacingAndGlyphs">Tregs</text>
<text x="254" y="459.6" font-size="4.8" fill="#303030" textLength="35.6" lengthAdjust="spacingAndGlyphs">CCR5-FOXP3+ (3)</text>
<text x="318.6" y="455.4" font-size="4.8" fill="#303030" textLength="39.9" lengthAdjust="spacingAndGlyphs">indole-3-carboxylate</text>
<text x="344.6" y="465.1" font-size="4.8" fill="#303030" textLength="15.4" lengthAdjust="spacingAndGlyphs">orotidine</text>
<text x="386" y="462.2" font-size="4.8" fill="#303030" textLength="17.5" lengthAdjust="spacingAndGlyphs">aconitate</text>
<text x="385" y="475.1" font-size="4.8" fill="#303030" textLength="23" lengthAdjust="spacingAndGlyphs">sphingosine</text>
<text x="383.8" y="485.2" font-size="4.8" fill="#303030" textLength="16.2" lengthAdjust="spacingAndGlyphs">carnitine</text>
<text x="382.3" y="492.6" font-size="4.8" fill="#303030" textLength="17.3" lengthAdjust="spacingAndGlyphs">ceramide</text>
<text x="376.5" y="498.6" font-size="4.8" fill="#303030" textLength="38.5" lengthAdjust="spacingAndGlyphs">decadienedioic acid</text>
<text x="372.7" y="503.6" font-size="4.8" fill="#303030" textLength="29.8" lengthAdjust="spacingAndGlyphs">heptenedioate</text>
<text x="371.7" y="509.3" font-size="4.8" fill="#303030" textLength="17.3" lengthAdjust="spacingAndGlyphs">creatinine</text>
<text x="335" y="475.6" font-size="4.8" fill="#303030" textLength="16.3" lengthAdjust="spacingAndGlyphs">carnitine</text>
<text x="330" y="481.4" font-size="4.8" fill="#303030" textLength="21.3" lengthAdjust="spacingAndGlyphs">vanillactate</text>
<text x="321" y="487.2" font-size="4.8" fill="#303030" textLength="31.3" lengthAdjust="spacingAndGlyphs">dimethylarginine</text>
<text x="285" y="492.4" font-size="4.8" fill="#303030" textLength="69" lengthAdjust="spacingAndGlyphs">3-(3-amino-3-carboxypropyl)uridine</text>
<text x="321.5" y="497.6" font-size="4.8" fill="#303030" textLength="28.5" lengthAdjust="spacingAndGlyphs">1-methylhistidine</text>
<text x="315.8" y="503.6" font-size="4.8" fill="#303030" textLength="35.2" lengthAdjust="spacingAndGlyphs">3-methoxytyrosine</text>
<text x="318.6" y="517.9" font-size="4.8" fill="#303030" textLength="39.4" lengthAdjust="spacingAndGlyphs">c-glycosyltryptophan</text>
<text x="248" y="470.6" font-size="4.8" fill="#303030" textLength="15.6" lengthAdjust="spacingAndGlyphs">NK cells</text>
<text x="229" y="476.2" font-size="4.8" fill="#303030" textLength="34.6" lengthAdjust="spacingAndGlyphs">CD56+CCR5+ (20)</text>
<text x="282" y="477.6" font-size="4.8" fill="#303030" textLength="18.4" lengthAdjust="spacingAndGlyphs">EM CD4+</text>
<text x="288" y="482.0" font-size="4.8" fill="#303030" textLength="11.4" lengthAdjust="spacingAndGlyphs">Th2 (9)</text>
<text x="200" y="487.6" font-size="4.8" fill="#303030" textLength="34.8" lengthAdjust="spacingAndGlyphs">Switched memory</text>
<text x="200" y="492.0" font-size="4.8" fill="#303030" textLength="20.8" lengthAdjust="spacingAndGlyphs">B cells (34)</text>
<text x="210.4" y="498.6" font-size="4.8" fill="#303030" textLength="60.0" lengthAdjust="spacingAndGlyphs">taurodeoxycholic acid 3-sulfate</text>
<text x="237.3" y="516.0" font-size="4.8" fill="#303030" textLength="17.7" lengthAdjust="spacingAndGlyphs">CM CD4+</text>
<text x="233.5" y="519.9" font-size="4.8" fill="#303030" textLength="25.3" lengthAdjust="spacingAndGlyphs">Th2 PD1+ (4)</text>
<text x="213" y="538.6" font-size="4.8" fill="#303030" textLength="67" lengthAdjust="spacingAndGlyphs">glycochenodeoxycholate glucuronide</text>
<text x="204" y="547.2" font-size="4.8" fill="#303030" textLength="54.8" lengthAdjust="spacingAndGlyphs">CM CD8+ PD1+CD38+ (36)</text>
<text x="307" y="525.6" font-size="4.8" fill="#303030" textLength="30.7" lengthAdjust="spacingAndGlyphs">State 16 TIGIT+</text>
<text x="307" y="530.1" font-size="4.8" fill="#303030" textLength="22" lengthAdjust="spacingAndGlyphs">in Tregs (3)</text>
<text x="266.5" y="544.9" font-size="4.8" fill="#303030" textLength="28.9" lengthAdjust="spacingAndGlyphs">State 16 TIGIT+</text>
<text x="266.5" y="548.9" font-size="4.8" fill="#303030" textLength="29.8" lengthAdjust="spacingAndGlyphs">in CM CD4+ Th2</text>
<text x="266.5" y="553.1" font-size="4.8" fill="#303030" textLength="27.0" lengthAdjust="spacingAndGlyphs">PD1-CD25+ (2)</text>
<text x="247.3" y="560.3" font-size="4.8" fill="#303030" textLength="54.7" lengthAdjust="spacingAndGlyphs">State 8 TIGIT+KLRG1+2B4+</text>
<text x="252" y="565.4" font-size="4.8" fill="#303030" textLength="52" lengthAdjust="spacingAndGlyphs">in CM CD8+ PD1+CD38- (20)</text>
<text x="311.7" y="566.8" font-size="4.8" fill="#303030" textLength="17.3" lengthAdjust="spacingAndGlyphs">3-CMPFP</text>
<text x="283.8" y="572.0" font-size="4.8" fill="#303030" textLength="41.4" lengthAdjust="spacingAndGlyphs">5α-androstenediol-</text>
<text x="296.3" y="576.0" font-size="4.8" fill="#303030" textLength="28.9" lengthAdjust="spacingAndGlyphs">(3β,17β)-diol</text>
<text x="314.6" y="580.3" font-size="4.8" fill="#303030" textLength="11.4" lengthAdjust="spacingAndGlyphs">disulfate</text>
<text x="288.7" y="587.0" font-size="4.8" fill="#303030" textLength="47.1" lengthAdjust="spacingAndGlyphs">2-methoxyhydroquinone</text>
<text x="337.7" y="558.1" font-size="4.8" fill="#303030" textLength="7.7" lengthAdjust="spacingAndGlyphs">urate</text>
<text x="388" y="515.6" font-size="4.8" fill="#303030" textLength="32.8" lengthAdjust="spacingAndGlyphs">eimenoylcarnitine</text>
<text x="417" y="510.3" font-size="4.8" fill="#303030" textLength="4.5" lengthAdjust="spacingAndGlyphs">SM</text>
<text x="432" y="520.8" font-size="4.8" fill="#303030" textLength="35" lengthAdjust="spacingAndGlyphs">lignoceroylcarnitine</text>
<text x="440" y="515.1" font-size="4.8" fill="#303030" textLength="41.5" lengthAdjust="spacingAndGlyphs">(3'-5')-cytidylyluridine</text>
<text x="437" y="526.6" font-size="4.8" fill="#303030" textLength="58" lengthAdjust="spacingAndGlyphs">State 10 GranzymeB+PD1+ in</text>
<text x="437" y="532.0" font-size="4.8" fill="#303030" textLength="54" lengthAdjust="spacingAndGlyphs">CM CD8+ PD1+CD38+ (36)</text>
<text x="406.3" y="537.2" font-size="4.8" fill="#303030" textLength="56.0" lengthAdjust="spacingAndGlyphs">N-oleoyl sphingadenine</text>
<text x="408.3" y="550.1" font-size="4.8" fill="#303030" textLength="16.3" lengthAdjust="spacingAndGlyphs">carnitine</text>
<text x="403.5" y="562.9" font-size="4.8" fill="#303030" textLength="36.5" lengthAdjust="spacingAndGlyphs">1-arachidonoyl-GPA</text>
<text x="395.8" y="577.9" font-size="4.8" fill="#303030" textLength="20.2" lengthAdjust="spacingAndGlyphs">phosphate</text>
<text x="418.8" y="571.8" font-size="4.8" fill="#303030" textLength="41.6" lengthAdjust="spacingAndGlyphs">tetradecadienedioate</text>
<text x="467" y="556.0" font-size="4.8" fill="#303030" textLength="16" lengthAdjust="spacingAndGlyphs">carnitine</text>
<text x="465.8" y="579.9" font-size="4.8" fill="#303030" textLength="16.7" lengthAdjust="spacingAndGlyphs">carnitine</text>
<text x="463.8" y="586.0" font-size="4.8" fill="#303030" textLength="31.6" lengthAdjust="spacingAndGlyphs">7-methylguanine</text>
<text x="408.3" y="588.9" font-size="4.8" fill="#303030" textLength="48.2" lengthAdjust="spacingAndGlyphs">3-hydroxybutyrylglycine</text>
<text x="430.6" y="594.3" font-size="4.8" fill="#303030" textLength="25.0" lengthAdjust="spacingAndGlyphs">plasmalogen</text>
<text x="463.8" y="598.1" font-size="4.8" fill="#303030" textLength="5.8" lengthAdjust="spacingAndGlyphs">SM</text>
<text x="447.9" y="612.9" font-size="4.8" fill="#303030" textLength="6.7" lengthAdjust="spacingAndGlyphs">SM</text>
<text x="401" y="613.6" font-size="4.8" fill="#303030" textLength="23.6" lengthAdjust="spacingAndGlyphs">hydro-CMPF</text>
<text x="397.3" y="626.0" font-size="4.8" fill="#303030" textLength="6.2" lengthAdjust="spacingAndGlyphs">SM</text>
<text x="471" y="615.2" font-size="4.8" fill="#303030" textLength="18" lengthAdjust="spacingAndGlyphs">imidazole</text>
<text x="471" y="620.1" font-size="4.8" fill="#303030" textLength="21.7" lengthAdjust="spacingAndGlyphs">propionate</text>
<text x="444" y="642.6" font-size="4.8" fill="#303030" textLength="21.2" lengthAdjust="spacingAndGlyphs">4-methyl-2-</text>
<text x="437" y="647.2" font-size="4.8" fill="#303030" textLength="29" lengthAdjust="spacingAndGlyphs">oxopentanoate</text>
<text x="375.6" y="638.9" font-size="4.8" fill="#303030" textLength="46.1" lengthAdjust="spacingAndGlyphs">2,3-diphosphoglycerate</text>
<text x="445.2" y="483.4" font-size="4.8" fill="#303030" textLength="22.6" lengthAdjust="spacingAndGlyphs">heptanoate</text>
<text x="454.6" y="499.3" font-size="4.8" fill="#303030" textLength="16.4" lengthAdjust="spacingAndGlyphs">xanthine</text>
<text x="226" y="576.4" font-size="4.8" fill="#303030" textLength="29" lengthAdjust="spacingAndGlyphs">N-acetyltaurine</text>
<text x="229" y="581.6" font-size="4.8" fill="#303030" textLength="27" lengthAdjust="spacingAndGlyphs">trimethyllysine</text>
<text x="256" y="585.1" font-size="4.8" fill="#303030" textLength="24" lengthAdjust="spacingAndGlyphs">plasmalogen</text>
<text x="199.2" y="592.6" font-size="4.8" fill="#303030" textLength="40.4" lengthAdjust="spacingAndGlyphs">prolylhydroxyproline</text>
<text x="218.5" y="598.6" font-size="4.8" fill="#303030" textLength="19.2" lengthAdjust="spacingAndGlyphs">21-hydroxy-</text>
<text x="212.7" y="602.4" font-size="4.8" fill="#303030" textLength="26.9" lengthAdjust="spacingAndGlyphs">pregnenolone</text>
<text x="222.3" y="606.6" font-size="4.8" fill="#303030" textLength="14.4" lengthAdjust="spacingAndGlyphs">disulfate</text>
<text x="207" y="611.8" font-size="4.8" fill="#303030" textLength="28.8" lengthAdjust="spacingAndGlyphs">androstenediol</text>
<text x="221.3" y="616.8" font-size="4.8" fill="#303030" textLength="14.5" lengthAdjust="spacingAndGlyphs">(3β,17β)</text>
<text x="221.3" y="622.0" font-size="4.8" fill="#303030" textLength="14.5" lengthAdjust="spacingAndGlyphs">disulfate</text>
<text x="207" y="626.4" font-size="4.8" fill="#303030" textLength="34.5" lengthAdjust="spacingAndGlyphs">5-methylthioribose</text>
<text x="208.8" y="631.6" font-size="4.8" fill="#303030" textLength="34.7" lengthAdjust="spacingAndGlyphs">O-sulfo-L-tyrosine</text>
<text x="214.2" y="636.8" font-size="4.8" fill="#303030" textLength="35.0" lengthAdjust="spacingAndGlyphs">hydroxyasparagine</text>
<text x="256" y="601.8" font-size="4.8" fill="#303030" textLength="13.4" lengthAdjust="spacingAndGlyphs">carnitine</text>
<text x="256" y="606.6" font-size="4.8" fill="#303030" textLength="24" lengthAdjust="spacingAndGlyphs">pregnenetriol</text>
<text x="256" y="612.4" font-size="4.8" fill="#303030" textLength="24" lengthAdjust="spacingAndGlyphs">7-methylurate</text>
<text x="256" y="617.2" font-size="4.8" fill="#303030" textLength="24" lengthAdjust="spacingAndGlyphs">androstenediol</text>
<text x="256" y="622.0" font-size="4.8" fill="#303030" textLength="14.5" lengthAdjust="spacingAndGlyphs">(3β,17β)</text>
<text x="256" y="626.4" font-size="4.8" fill="#303030" textLength="22" lengthAdjust="spacingAndGlyphs">monosulfate</text>
<text x="256" y="633.6" font-size="4.8" fill="#303030" textLength="41" lengthAdjust="spacingAndGlyphs">cortolone glucuronide</text>
<text x="265.6" y="641.6" font-size="4.8" fill="#303030" textLength="42.9" lengthAdjust="spacingAndGlyphs">2,3-dihydroxybutyrate</text>
<text x="270" y="648.9" font-size="4.8" fill="#303030" textLength="46" lengthAdjust="spacingAndGlyphs">gamma-glutamylglycine</text>
<text x="280" y="596.0" font-size="4.8" fill="#303030" textLength="38" lengthAdjust="spacingAndGlyphs">phosphatidylcholine</text>
<text x="309.4" y="601.8" font-size="4.8" fill="#303030" textLength="23.1" lengthAdjust="spacingAndGlyphs">succinimide</text>
<text x="307.5" y="606.2" font-size="4.8" fill="#303030" textLength="25.0" lengthAdjust="spacingAndGlyphs">plasmalogen</text>
<text x="296" y="612.0" font-size="4.8" fill="#303030" textLength="16.3" lengthAdjust="spacingAndGlyphs">ceramide</text>
<text x="318" y="615.8" font-size="4.8" fill="#303030" textLength="20.3" lengthAdjust="spacingAndGlyphs">pipecolate</text>
<text x="316" y="622.4" font-size="4.8" fill="#303030" textLength="24.2" lengthAdjust="spacingAndGlyphs">pantothenate</text>
<text x="317" y="635.1" font-size="4.8" fill="#303030" textLength="16.5" lengthAdjust="spacingAndGlyphs">carnitine</text>
<text x="328.6" y="641.6" font-size="4.8" fill="#303030" textLength="31.8" lengthAdjust="spacingAndGlyphs">monoacylglycerol</text>
<text x="323.8" y="649.3" font-size="4.8" fill="#303030" textLength="3.9" lengthAdjust="spacingAndGlyphs">SM</text>
<text x="352.7" y="622.0" font-size="4.8" fill="#303030" textLength="13.3" lengthAdjust="spacingAndGlyphs">glycine</text>
<text x="343" y="633.9" font-size="4.8" fill="#303030" textLength="25" lengthAdjust="spacingAndGlyphs">corticosterone</text>
<line x1="251" y1="590" x2="251" y2="634" stroke="#999" stroke-width="1.4" stroke-opacity="0.6"/>
<line x1="240" y1="591" x2="246" y2="589" stroke="#222" stroke-width="0.45"/>
<line x1="238" y1="598" x2="249" y2="597" stroke="#222" stroke-width="0.45"/>
<line x1="237" y1="603" x2="249" y2="604" stroke="#222" stroke-width="0.45"/>
<line x1="236" y1="610" x2="250" y2="609" stroke="#222" stroke-width="0.45"/>
<line x1="237" y1="616" x2="250" y2="614" stroke="#222" stroke-width="0.45"/>
<line x1="242" y1="625" x2="249" y2="625" stroke="#222" stroke-width="0.45"/>
<line x1="244" y1="630" x2="249" y2="631" stroke="#222" stroke-width="0.45"/>
<line x1="249" y1="634" x2="251" y2="590" stroke="#222" stroke-width="0.45"/>
<line x1="253.5" y1="582" x2="253" y2="599" stroke="#222" stroke-width="0.45"/>
<line x1="262" y1="586" x2="262" y2="603" stroke="#222" stroke-width="0.45"/>
<line x1="256" y1="600" x2="253" y2="599" stroke="#222" stroke-width="0.45"/>
<line x1="256" y1="605" x2="254" y2="606" stroke="#222" stroke-width="0.45"/>
</svg></body></html>
